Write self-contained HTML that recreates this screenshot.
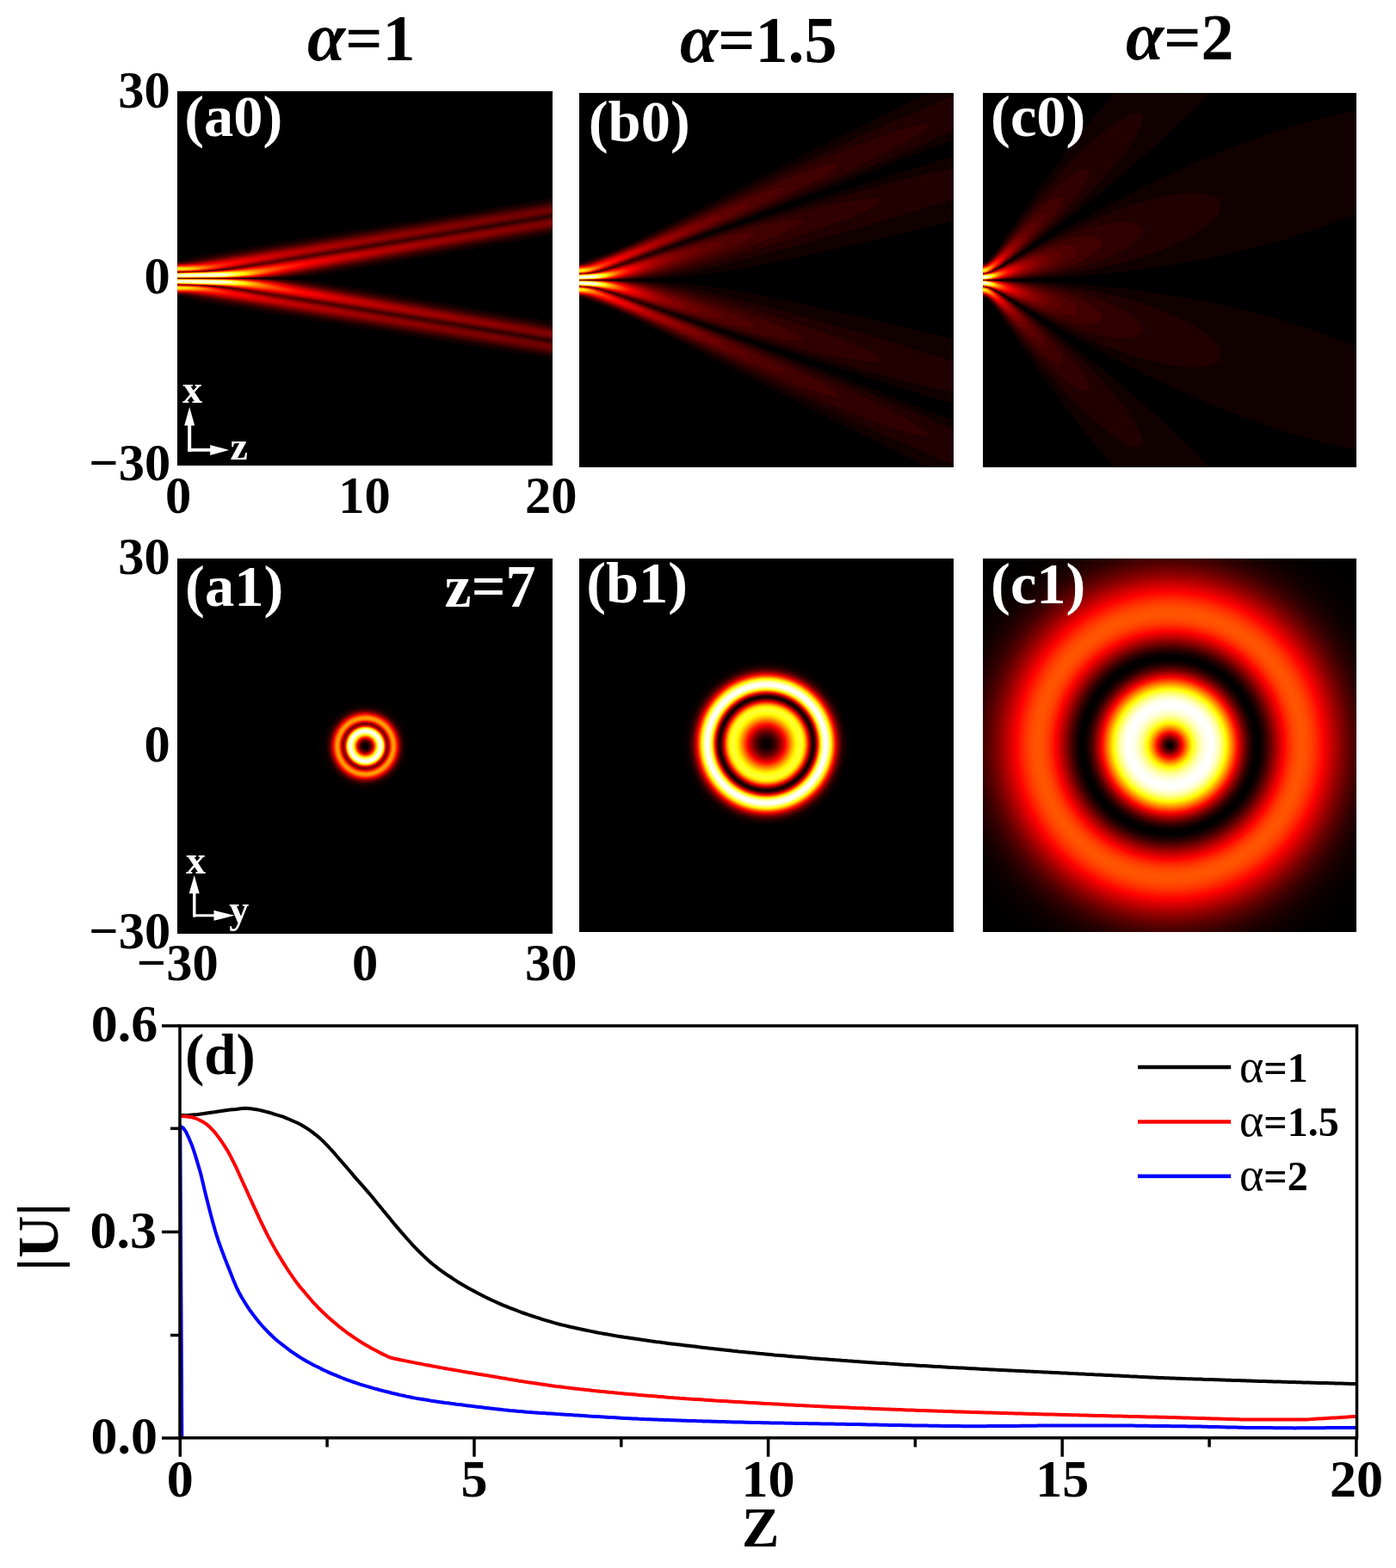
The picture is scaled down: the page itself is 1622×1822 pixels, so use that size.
<!DOCTYPE html><html><head><meta charset="utf-8"><title>figure</title><style>html,body{margin:0;padding:0;background:#fff}svg{display:block}text{font-family:"Liberation Serif","Times New Roman",serif;font-weight:bold}</style></head><body><svg width="1622" height="1822" viewBox="0 0 1622 1822"><defs><radialGradient id="ga1" gradientUnits="userSpaceOnUse" cx="424.6" cy="867.0" r="320"><stop offset="0.0000" stop-color="#000000"/><stop offset="0.0023" stop-color="#020000"/><stop offset="0.0047" stop-color="#050000"/><stop offset="0.0070" stop-color="#0a0000"/><stop offset="0.0094" stop-color="#100000"/><stop offset="0.0117" stop-color="#1a0000"/><stop offset="0.0141" stop-color="#260000"/><stop offset="0.0164" stop-color="#370000"/><stop offset="0.0187" stop-color="#4c0000"/><stop offset="0.0211" stop-color="#660000"/><stop offset="0.0234" stop-color="#850000"/><stop offset="0.0258" stop-color="#ab0000"/><stop offset="0.0281" stop-color="#d60000"/><stop offset="0.0305" stop-color="#ff0600"/><stop offset="0.0328" stop-color="#ff3800"/><stop offset="0.0352" stop-color="#ff6d00"/><stop offset="0.0375" stop-color="#ffa200"/><stop offset="0.0398" stop-color="#ffd700"/><stop offset="0.0422" stop-color="#ffff10"/><stop offset="0.0445" stop-color="#ffff56"/><stop offset="0.0469" stop-color="#ffff93"/><stop offset="0.0492" stop-color="#ffffc4"/><stop offset="0.0516" stop-color="#ffffe7"/><stop offset="0.0539" stop-color="#fffffb"/><stop offset="0.0563" stop-color="#fffffd"/><stop offset="0.0586" stop-color="#ffffe3"/><stop offset="0.0609" stop-color="#ffffae"/><stop offset="0.0633" stop-color="#ffff5f"/><stop offset="0.0656" stop-color="#fffc00"/><stop offset="0.0680" stop-color="#ffaf00"/><stop offset="0.0703" stop-color="#ff5f00"/><stop offset="0.0727" stop-color="#ff1100"/><stop offset="0.0750" stop-color="#ca0000"/><stop offset="0.0773" stop-color="#950000"/><stop offset="0.0797" stop-color="#7a0000"/><stop offset="0.0820" stop-color="#7c0000"/><stop offset="0.0844" stop-color="#970000"/><stop offset="0.0867" stop-color="#c30000"/><stop offset="0.0891" stop-color="#f80000"/><stop offset="0.0914" stop-color="#ff2c00"/><stop offset="0.0938" stop-color="#ff5900"/><stop offset="0.0961" stop-color="#ff7d00"/><stop offset="0.0984" stop-color="#ff9500"/><stop offset="0.1008" stop-color="#ffa000"/><stop offset="0.1031" stop-color="#ff9f00"/><stop offset="0.1055" stop-color="#ff9200"/><stop offset="0.1078" stop-color="#ff7b00"/><stop offset="0.1102" stop-color="#ff5d00"/><stop offset="0.1125" stop-color="#ff3b00"/><stop offset="0.1148" stop-color="#ff1600"/><stop offset="0.1172" stop-color="#f00000"/><stop offset="0.1195" stop-color="#cb0000"/><stop offset="0.1219" stop-color="#a80000"/><stop offset="0.1242" stop-color="#8a0000"/><stop offset="0.1266" stop-color="#6f0000"/><stop offset="0.1289" stop-color="#580000"/><stop offset="0.1313" stop-color="#450000"/><stop offset="0.1336" stop-color="#360000"/><stop offset="0.1359" stop-color="#290000"/><stop offset="0.1383" stop-color="#200000"/><stop offset="0.1406" stop-color="#180000"/><stop offset="0.1430" stop-color="#130000"/><stop offset="0.1453" stop-color="#0e0000"/><stop offset="0.1477" stop-color="#0b0000"/><stop offset="0.1500" stop-color="#090000"/><stop offset="0.1523" stop-color="#070000"/><stop offset="0.1547" stop-color="#050000"/><stop offset="0.1570" stop-color="#040000"/><stop offset="0.1594" stop-color="#040000"/><stop offset="0.1617" stop-color="#030000"/><stop offset="0.1641" stop-color="#020000"/><stop offset="0.1688" stop-color="#020000"/><stop offset="0.1711" stop-color="#010000"/><stop offset="0.1898" stop-color="#010000"/><stop offset="0.1922" stop-color="#000000"/><stop offset="0.9984" stop-color="#000000"/></radialGradient><radialGradient id="gb1" gradientUnits="userSpaceOnUse" cx="890.5" cy="864.2" r="320"><stop offset="0.0000" stop-color="#000000"/><stop offset="0.0023" stop-color="#010000"/><stop offset="0.0047" stop-color="#030000"/><stop offset="0.0070" stop-color="#050000"/><stop offset="0.0094" stop-color="#080000"/><stop offset="0.0117" stop-color="#0c0000"/><stop offset="0.0141" stop-color="#0f0000"/><stop offset="0.0164" stop-color="#140000"/><stop offset="0.0187" stop-color="#190000"/><stop offset="0.0211" stop-color="#1e0000"/><stop offset="0.0234" stop-color="#240000"/><stop offset="0.0258" stop-color="#2b0000"/><stop offset="0.0281" stop-color="#320000"/><stop offset="0.0305" stop-color="#390000"/><stop offset="0.0328" stop-color="#410000"/><stop offset="0.0352" stop-color="#4a0000"/><stop offset="0.0375" stop-color="#530000"/><stop offset="0.0398" stop-color="#5d0000"/><stop offset="0.0422" stop-color="#670000"/><stop offset="0.0445" stop-color="#720000"/><stop offset="0.0469" stop-color="#7e0000"/><stop offset="0.0492" stop-color="#8a0000"/><stop offset="0.0516" stop-color="#970000"/><stop offset="0.0539" stop-color="#a40000"/><stop offset="0.0563" stop-color="#b20000"/><stop offset="0.0586" stop-color="#c00000"/><stop offset="0.0609" stop-color="#cf0000"/><stop offset="0.0633" stop-color="#de0000"/><stop offset="0.0656" stop-color="#ee0000"/><stop offset="0.0680" stop-color="#fe0000"/><stop offset="0.0703" stop-color="#ff0f00"/><stop offset="0.0727" stop-color="#ff1f00"/><stop offset="0.0750" stop-color="#ff2f00"/><stop offset="0.0773" stop-color="#ff3f00"/><stop offset="0.0797" stop-color="#ff5000"/><stop offset="0.0820" stop-color="#ff6000"/><stop offset="0.0844" stop-color="#ff7000"/><stop offset="0.0867" stop-color="#ff8100"/><stop offset="0.0891" stop-color="#ff9100"/><stop offset="0.0914" stop-color="#ffa000"/><stop offset="0.0938" stop-color="#ffb000"/><stop offset="0.0961" stop-color="#ffbe00"/><stop offset="0.0984" stop-color="#ffcd00"/><stop offset="0.1008" stop-color="#ffda00"/><stop offset="0.1031" stop-color="#ffe700"/><stop offset="0.1055" stop-color="#fff200"/><stop offset="0.1078" stop-color="#fffd00"/><stop offset="0.1102" stop-color="#ffff0c"/><stop offset="0.1125" stop-color="#ffff18"/><stop offset="0.1148" stop-color="#ffff23"/><stop offset="0.1172" stop-color="#ffff2b"/><stop offset="0.1195" stop-color="#ffff31"/><stop offset="0.1219" stop-color="#ffff34"/><stop offset="0.1242" stop-color="#ffff32"/><stop offset="0.1266" stop-color="#ffff2c"/><stop offset="0.1289" stop-color="#ffff20"/><stop offset="0.1313" stop-color="#ffff0e"/><stop offset="0.1336" stop-color="#fff900"/><stop offset="0.1359" stop-color="#ffe600"/><stop offset="0.1383" stop-color="#ffcf00"/><stop offset="0.1406" stop-color="#ffb400"/><stop offset="0.1430" stop-color="#ff9500"/><stop offset="0.1453" stop-color="#ff7400"/><stop offset="0.1477" stop-color="#ff5000"/><stop offset="0.1500" stop-color="#ff2900"/><stop offset="0.1523" stop-color="#ff0200"/><stop offset="0.1547" stop-color="#d70000"/><stop offset="0.1570" stop-color="#ad0000"/><stop offset="0.1594" stop-color="#840000"/><stop offset="0.1617" stop-color="#5f0000"/><stop offset="0.1641" stop-color="#3e0000"/><stop offset="0.1664" stop-color="#240000"/><stop offset="0.1688" stop-color="#130000"/><stop offset="0.1711" stop-color="#120000"/><stop offset="0.1734" stop-color="#220000"/><stop offset="0.1758" stop-color="#3e0000"/><stop offset="0.1781" stop-color="#620000"/><stop offset="0.1805" stop-color="#8d0000"/><stop offset="0.1828" stop-color="#be0000"/><stop offset="0.1852" stop-color="#f20000"/><stop offset="0.1875" stop-color="#ff2800"/><stop offset="0.1898" stop-color="#ff5c00"/><stop offset="0.1922" stop-color="#ff9100"/><stop offset="0.1945" stop-color="#ffc300"/><stop offset="0.1969" stop-color="#fff200"/><stop offset="0.1992" stop-color="#ffff2e"/><stop offset="0.2016" stop-color="#ffff67"/><stop offset="0.2039" stop-color="#ffff98"/><stop offset="0.2062" stop-color="#ffffc0"/><stop offset="0.2086" stop-color="#ffffde"/><stop offset="0.2109" stop-color="#fffff3"/><stop offset="0.2133" stop-color="#fffffd"/><stop offset="0.2156" stop-color="#fffffe"/><stop offset="0.2180" stop-color="#fffff6"/><stop offset="0.2203" stop-color="#ffffe6"/><stop offset="0.2227" stop-color="#ffffce"/><stop offset="0.2250" stop-color="#ffffaf"/><stop offset="0.2273" stop-color="#ffff8a"/><stop offset="0.2297" stop-color="#ffff5f"/><stop offset="0.2320" stop-color="#ffff30"/><stop offset="0.2344" stop-color="#fffe00"/><stop offset="0.2367" stop-color="#ffdb00"/><stop offset="0.2391" stop-color="#ffb700"/><stop offset="0.2414" stop-color="#ff9200"/><stop offset="0.2437" stop-color="#ff6e00"/><stop offset="0.2461" stop-color="#ff4a00"/><stop offset="0.2484" stop-color="#ff2800"/><stop offset="0.2508" stop-color="#ff0700"/><stop offset="0.2531" stop-color="#e60000"/><stop offset="0.2555" stop-color="#c90000"/><stop offset="0.2578" stop-color="#ad0000"/><stop offset="0.2602" stop-color="#950000"/><stop offset="0.2625" stop-color="#7f0000"/><stop offset="0.2648" stop-color="#6c0000"/><stop offset="0.2672" stop-color="#5b0000"/><stop offset="0.2695" stop-color="#4c0000"/><stop offset="0.2719" stop-color="#3f0000"/><stop offset="0.2742" stop-color="#340000"/><stop offset="0.2766" stop-color="#2a0000"/><stop offset="0.2789" stop-color="#220000"/><stop offset="0.2812" stop-color="#1b0000"/><stop offset="0.2836" stop-color="#160000"/><stop offset="0.2859" stop-color="#110000"/><stop offset="0.2883" stop-color="#0d0000"/><stop offset="0.2906" stop-color="#0a0000"/><stop offset="0.2930" stop-color="#080000"/><stop offset="0.2953" stop-color="#060000"/><stop offset="0.2977" stop-color="#050000"/><stop offset="0.3000" stop-color="#040000"/><stop offset="0.3023" stop-color="#030000"/><stop offset="0.3047" stop-color="#020000"/><stop offset="0.3070" stop-color="#010000"/><stop offset="0.3141" stop-color="#010000"/><stop offset="0.3164" stop-color="#000000"/><stop offset="0.9984" stop-color="#000000"/></radialGradient><radialGradient id="gc1" gradientUnits="userSpaceOnUse" cx="1359.2" cy="866.0" r="320"><stop offset="0.0000" stop-color="#000000"/><stop offset="0.0023" stop-color="#010000"/><stop offset="0.0047" stop-color="#050000"/><stop offset="0.0070" stop-color="#0b0000"/><stop offset="0.0094" stop-color="#120000"/><stop offset="0.0117" stop-color="#1b0000"/><stop offset="0.0141" stop-color="#250000"/><stop offset="0.0164" stop-color="#300000"/><stop offset="0.0187" stop-color="#3d0000"/><stop offset="0.0211" stop-color="#4b0000"/><stop offset="0.0234" stop-color="#5a0000"/><stop offset="0.0258" stop-color="#690000"/><stop offset="0.0281" stop-color="#7a0000"/><stop offset="0.0305" stop-color="#8b0000"/><stop offset="0.0328" stop-color="#9d0000"/><stop offset="0.0352" stop-color="#af0000"/><stop offset="0.0375" stop-color="#c10000"/><stop offset="0.0398" stop-color="#d40000"/><stop offset="0.0422" stop-color="#e70000"/><stop offset="0.0445" stop-color="#fb0000"/><stop offset="0.0469" stop-color="#ff0e00"/><stop offset="0.0492" stop-color="#ff2100"/><stop offset="0.0516" stop-color="#ff3300"/><stop offset="0.0539" stop-color="#ff4500"/><stop offset="0.0563" stop-color="#ff5700"/><stop offset="0.0586" stop-color="#ff6900"/><stop offset="0.0609" stop-color="#ff7a00"/><stop offset="0.0633" stop-color="#ff8b00"/><stop offset="0.0656" stop-color="#ff9c00"/><stop offset="0.0680" stop-color="#ffac00"/><stop offset="0.0703" stop-color="#ffbc00"/><stop offset="0.0727" stop-color="#ffcb00"/><stop offset="0.0750" stop-color="#ffda00"/><stop offset="0.0773" stop-color="#ffe800"/><stop offset="0.0797" stop-color="#fff500"/><stop offset="0.0820" stop-color="#ffff05"/><stop offset="0.0844" stop-color="#ffff18"/><stop offset="0.0867" stop-color="#ffff2a"/><stop offset="0.0891" stop-color="#ffff3b"/><stop offset="0.0914" stop-color="#ffff4b"/><stop offset="0.0938" stop-color="#ffff5a"/><stop offset="0.0961" stop-color="#ffff69"/><stop offset="0.0984" stop-color="#ffff76"/><stop offset="0.1008" stop-color="#ffff83"/><stop offset="0.1031" stop-color="#ffff90"/><stop offset="0.1055" stop-color="#ffff9b"/><stop offset="0.1078" stop-color="#ffffa6"/><stop offset="0.1102" stop-color="#ffffb0"/><stop offset="0.1125" stop-color="#ffffb9"/><stop offset="0.1148" stop-color="#ffffc2"/><stop offset="0.1172" stop-color="#ffffca"/><stop offset="0.1195" stop-color="#ffffd1"/><stop offset="0.1219" stop-color="#ffffd8"/><stop offset="0.1242" stop-color="#ffffde"/><stop offset="0.1266" stop-color="#ffffe4"/><stop offset="0.1289" stop-color="#ffffe9"/><stop offset="0.1313" stop-color="#ffffee"/><stop offset="0.1336" stop-color="#fffff2"/><stop offset="0.1359" stop-color="#fffff5"/><stop offset="0.1383" stop-color="#fffff8"/><stop offset="0.1406" stop-color="#fffffa"/><stop offset="0.1430" stop-color="#fffffc"/><stop offset="0.1453" stop-color="#fffffe"/><stop offset="0.1477" stop-color="#ffffff"/><stop offset="0.1500" stop-color="#ffffff"/><stop offset="0.1523" stop-color="#fffffe"/><stop offset="0.1547" stop-color="#fffffb"/><stop offset="0.1570" stop-color="#fffff8"/><stop offset="0.1594" stop-color="#fffff4"/><stop offset="0.1617" stop-color="#ffffef"/><stop offset="0.1641" stop-color="#ffffe9"/><stop offset="0.1664" stop-color="#ffffe1"/><stop offset="0.1688" stop-color="#ffffd9"/><stop offset="0.1711" stop-color="#ffffd0"/><stop offset="0.1734" stop-color="#ffffc6"/><stop offset="0.1758" stop-color="#ffffbc"/><stop offset="0.1781" stop-color="#ffffb0"/><stop offset="0.1805" stop-color="#ffffa4"/><stop offset="0.1828" stop-color="#ffff96"/><stop offset="0.1852" stop-color="#ffff88"/><stop offset="0.1875" stop-color="#ffff79"/><stop offset="0.1898" stop-color="#ffff6a"/><stop offset="0.1922" stop-color="#ffff5a"/><stop offset="0.1945" stop-color="#ffff49"/><stop offset="0.1969" stop-color="#ffff38"/><stop offset="0.1992" stop-color="#ffff26"/><stop offset="0.2016" stop-color="#ffff14"/><stop offset="0.2039" stop-color="#ffff01"/><stop offset="0.2062" stop-color="#fff300"/><stop offset="0.2086" stop-color="#ffe500"/><stop offset="0.2109" stop-color="#ffd800"/><stop offset="0.2133" stop-color="#ffca00"/><stop offset="0.2156" stop-color="#ffbd00"/><stop offset="0.2180" stop-color="#ffaf00"/><stop offset="0.2203" stop-color="#ffa000"/><stop offset="0.2227" stop-color="#ff9200"/><stop offset="0.2250" stop-color="#ff8400"/><stop offset="0.2273" stop-color="#ff7600"/><stop offset="0.2297" stop-color="#ff6700"/><stop offset="0.2320" stop-color="#ff5900"/><stop offset="0.2344" stop-color="#ff4b00"/><stop offset="0.2367" stop-color="#ff3c00"/><stop offset="0.2391" stop-color="#ff2e00"/><stop offset="0.2414" stop-color="#ff2000"/><stop offset="0.2437" stop-color="#ff1200"/><stop offset="0.2461" stop-color="#ff0400"/><stop offset="0.2484" stop-color="#f50000"/><stop offset="0.2508" stop-color="#e70000"/><stop offset="0.2531" stop-color="#d90000"/><stop offset="0.2555" stop-color="#cc0000"/><stop offset="0.2578" stop-color="#bf0000"/><stop offset="0.2602" stop-color="#b20000"/><stop offset="0.2625" stop-color="#a50000"/><stop offset="0.2648" stop-color="#990000"/><stop offset="0.2672" stop-color="#8d0000"/><stop offset="0.2695" stop-color="#810000"/><stop offset="0.2719" stop-color="#760000"/><stop offset="0.2742" stop-color="#6b0000"/><stop offset="0.2766" stop-color="#610000"/><stop offset="0.2789" stop-color="#570000"/><stop offset="0.2812" stop-color="#4e0000"/><stop offset="0.2836" stop-color="#450000"/><stop offset="0.2859" stop-color="#3c0000"/><stop offset="0.2883" stop-color="#340000"/><stop offset="0.2906" stop-color="#2d0000"/><stop offset="0.2930" stop-color="#260000"/><stop offset="0.2953" stop-color="#1f0000"/><stop offset="0.2977" stop-color="#1a0000"/><stop offset="0.3000" stop-color="#140000"/><stop offset="0.3023" stop-color="#0f0000"/><stop offset="0.3047" stop-color="#0b0000"/><stop offset="0.3070" stop-color="#080000"/><stop offset="0.3094" stop-color="#050000"/><stop offset="0.3117" stop-color="#030000"/><stop offset="0.3141" stop-color="#010000"/><stop offset="0.3164" stop-color="#000000"/><stop offset="0.3187" stop-color="#000000"/><stop offset="0.3211" stop-color="#010000"/><stop offset="0.3234" stop-color="#030000"/><stop offset="0.3258" stop-color="#050000"/><stop offset="0.3281" stop-color="#080000"/><stop offset="0.3305" stop-color="#0b0000"/><stop offset="0.3328" stop-color="#0f0000"/><stop offset="0.3352" stop-color="#130000"/><stop offset="0.3375" stop-color="#180000"/><stop offset="0.3398" stop-color="#1d0000"/><stop offset="0.3422" stop-color="#220000"/><stop offset="0.3445" stop-color="#280000"/><stop offset="0.3469" stop-color="#2e0000"/><stop offset="0.3492" stop-color="#340000"/><stop offset="0.3516" stop-color="#3a0000"/><stop offset="0.3539" stop-color="#410000"/><stop offset="0.3563" stop-color="#480000"/><stop offset="0.3586" stop-color="#4f0000"/><stop offset="0.3609" stop-color="#560000"/><stop offset="0.3633" stop-color="#5d0000"/><stop offset="0.3656" stop-color="#650000"/><stop offset="0.3680" stop-color="#6c0000"/><stop offset="0.3703" stop-color="#740000"/><stop offset="0.3727" stop-color="#7c0000"/><stop offset="0.3750" stop-color="#830000"/><stop offset="0.3773" stop-color="#8b0000"/><stop offset="0.3797" stop-color="#930000"/><stop offset="0.3820" stop-color="#9b0000"/><stop offset="0.3844" stop-color="#a20000"/><stop offset="0.3867" stop-color="#aa0000"/><stop offset="0.3891" stop-color="#b20000"/><stop offset="0.3914" stop-color="#b90000"/><stop offset="0.3937" stop-color="#c10000"/><stop offset="0.3961" stop-color="#c80000"/><stop offset="0.3984" stop-color="#d00000"/><stop offset="0.4008" stop-color="#d70000"/><stop offset="0.4031" stop-color="#de0000"/><stop offset="0.4055" stop-color="#e50000"/><stop offset="0.4078" stop-color="#ec0000"/><stop offset="0.4102" stop-color="#f30000"/><stop offset="0.4125" stop-color="#f90000"/><stop offset="0.4148" stop-color="#ff0000"/><stop offset="0.4172" stop-color="#ff0600"/><stop offset="0.4195" stop-color="#ff0c00"/><stop offset="0.4219" stop-color="#ff1100"/><stop offset="0.4242" stop-color="#ff1700"/><stop offset="0.4266" stop-color="#ff1c00"/><stop offset="0.4289" stop-color="#ff2100"/><stop offset="0.4313" stop-color="#ff2500"/><stop offset="0.4336" stop-color="#ff2a00"/><stop offset="0.4359" stop-color="#ff2e00"/><stop offset="0.4383" stop-color="#ff3200"/><stop offset="0.4406" stop-color="#ff3600"/><stop offset="0.4430" stop-color="#ff3a00"/><stop offset="0.4453" stop-color="#ff3d00"/><stop offset="0.4477" stop-color="#ff4000"/><stop offset="0.4500" stop-color="#ff4300"/><stop offset="0.4523" stop-color="#ff4600"/><stop offset="0.4547" stop-color="#ff4800"/><stop offset="0.4570" stop-color="#ff4a00"/><stop offset="0.4594" stop-color="#ff4c00"/><stop offset="0.4617" stop-color="#ff4e00"/><stop offset="0.4641" stop-color="#ff5000"/><stop offset="0.4664" stop-color="#ff5100"/><stop offset="0.4688" stop-color="#ff5200"/><stop offset="0.4711" stop-color="#ff5300"/><stop offset="0.4734" stop-color="#ff5300"/><stop offset="0.4758" stop-color="#ff5400"/><stop offset="0.4828" stop-color="#ff5400"/><stop offset="0.4852" stop-color="#ff5300"/><stop offset="0.4875" stop-color="#ff5300"/><stop offset="0.4898" stop-color="#ff5200"/><stop offset="0.4922" stop-color="#ff5100"/><stop offset="0.4945" stop-color="#ff5000"/><stop offset="0.4969" stop-color="#ff4f00"/><stop offset="0.4992" stop-color="#ff4d00"/><stop offset="0.5016" stop-color="#ff4b00"/><stop offset="0.5039" stop-color="#ff4900"/><stop offset="0.5062" stop-color="#ff4700"/><stop offset="0.5086" stop-color="#ff4500"/><stop offset="0.5109" stop-color="#ff4300"/><stop offset="0.5133" stop-color="#ff4000"/><stop offset="0.5156" stop-color="#ff3e00"/><stop offset="0.5180" stop-color="#ff3b00"/><stop offset="0.5203" stop-color="#ff3800"/><stop offset="0.5227" stop-color="#ff3500"/><stop offset="0.5250" stop-color="#ff3200"/><stop offset="0.5273" stop-color="#ff2f00"/><stop offset="0.5297" stop-color="#ff2c00"/><stop offset="0.5320" stop-color="#ff2800"/><stop offset="0.5344" stop-color="#ff2500"/><stop offset="0.5367" stop-color="#ff2100"/><stop offset="0.5391" stop-color="#ff1e00"/><stop offset="0.5414" stop-color="#ff1a00"/><stop offset="0.5437" stop-color="#ff1600"/><stop offset="0.5461" stop-color="#ff1200"/><stop offset="0.5484" stop-color="#ff0e00"/><stop offset="0.5508" stop-color="#ff0b00"/><stop offset="0.5531" stop-color="#ff0700"/><stop offset="0.5555" stop-color="#ff0300"/><stop offset="0.5578" stop-color="#fd0000"/><stop offset="0.5602" stop-color="#f90000"/><stop offset="0.5625" stop-color="#f50000"/><stop offset="0.5648" stop-color="#f00000"/><stop offset="0.5672" stop-color="#ec0000"/><stop offset="0.5695" stop-color="#e80000"/><stop offset="0.5719" stop-color="#e30000"/><stop offset="0.5742" stop-color="#df0000"/><stop offset="0.5766" stop-color="#db0000"/><stop offset="0.5789" stop-color="#d60000"/><stop offset="0.5813" stop-color="#d20000"/><stop offset="0.5836" stop-color="#ce0000"/><stop offset="0.5859" stop-color="#c90000"/><stop offset="0.5883" stop-color="#c50000"/><stop offset="0.5906" stop-color="#c10000"/><stop offset="0.5930" stop-color="#bc0000"/><stop offset="0.5953" stop-color="#b80000"/><stop offset="0.5977" stop-color="#b40000"/><stop offset="0.6000" stop-color="#b00000"/><stop offset="0.6023" stop-color="#ac0000"/><stop offset="0.6047" stop-color="#a70000"/><stop offset="0.6070" stop-color="#a30000"/><stop offset="0.6094" stop-color="#9f0000"/><stop offset="0.6117" stop-color="#9b0000"/><stop offset="0.6141" stop-color="#970000"/><stop offset="0.6164" stop-color="#930000"/><stop offset="0.6188" stop-color="#900000"/><stop offset="0.6211" stop-color="#8c0000"/><stop offset="0.6234" stop-color="#880000"/><stop offset="0.6258" stop-color="#840000"/><stop offset="0.6281" stop-color="#810000"/><stop offset="0.6305" stop-color="#7d0000"/><stop offset="0.6328" stop-color="#7a0000"/><stop offset="0.6352" stop-color="#760000"/><stop offset="0.6375" stop-color="#730000"/><stop offset="0.6398" stop-color="#700000"/><stop offset="0.6422" stop-color="#6c0000"/><stop offset="0.6445" stop-color="#690000"/><stop offset="0.6469" stop-color="#660000"/><stop offset="0.6492" stop-color="#630000"/><stop offset="0.6516" stop-color="#600000"/><stop offset="0.6539" stop-color="#5d0000"/><stop offset="0.6562" stop-color="#5a0000"/><stop offset="0.6586" stop-color="#570000"/><stop offset="0.6609" stop-color="#540000"/><stop offset="0.6633" stop-color="#520000"/><stop offset="0.6656" stop-color="#4f0000"/><stop offset="0.6680" stop-color="#4d0000"/><stop offset="0.6703" stop-color="#4a0000"/><stop offset="0.6727" stop-color="#480000"/><stop offset="0.6750" stop-color="#450000"/><stop offset="0.6773" stop-color="#430000"/><stop offset="0.6797" stop-color="#410000"/><stop offset="0.6820" stop-color="#3e0000"/><stop offset="0.6844" stop-color="#3c0000"/><stop offset="0.6867" stop-color="#3a0000"/><stop offset="0.6891" stop-color="#380000"/><stop offset="0.6914" stop-color="#360000"/><stop offset="0.6937" stop-color="#340000"/><stop offset="0.6961" stop-color="#320000"/><stop offset="0.6984" stop-color="#300000"/><stop offset="0.7008" stop-color="#2f0000"/><stop offset="0.7031" stop-color="#2d0000"/><stop offset="0.7055" stop-color="#2b0000"/><stop offset="0.7078" stop-color="#2a0000"/><stop offset="0.7102" stop-color="#280000"/><stop offset="0.7125" stop-color="#260000"/><stop offset="0.7148" stop-color="#250000"/><stop offset="0.7172" stop-color="#240000"/><stop offset="0.7195" stop-color="#220000"/><stop offset="0.7219" stop-color="#210000"/><stop offset="0.7242" stop-color="#200000"/><stop offset="0.7266" stop-color="#1e0000"/><stop offset="0.7289" stop-color="#1d0000"/><stop offset="0.7312" stop-color="#1c0000"/><stop offset="0.7336" stop-color="#1b0000"/><stop offset="0.7359" stop-color="#1a0000"/><stop offset="0.7383" stop-color="#190000"/><stop offset="0.7406" stop-color="#180000"/><stop offset="0.7430" stop-color="#170000"/><stop offset="0.7453" stop-color="#160000"/><stop offset="0.7477" stop-color="#150000"/><stop offset="0.7500" stop-color="#140000"/><stop offset="0.7523" stop-color="#130000"/><stop offset="0.7547" stop-color="#120000"/><stop offset="0.7570" stop-color="#110000"/><stop offset="0.7594" stop-color="#110000"/><stop offset="0.7617" stop-color="#100000"/><stop offset="0.7641" stop-color="#0f0000"/><stop offset="0.7664" stop-color="#0f0000"/><stop offset="0.7688" stop-color="#0e0000"/><stop offset="0.7711" stop-color="#0d0000"/><stop offset="0.7734" stop-color="#0d0000"/><stop offset="0.7758" stop-color="#0c0000"/><stop offset="0.7781" stop-color="#0c0000"/><stop offset="0.7805" stop-color="#0b0000"/><stop offset="0.7828" stop-color="#0b0000"/><stop offset="0.7852" stop-color="#0a0000"/><stop offset="0.7875" stop-color="#0a0000"/><stop offset="0.7898" stop-color="#090000"/><stop offset="0.7922" stop-color="#090000"/><stop offset="0.7945" stop-color="#080000"/><stop offset="0.7969" stop-color="#080000"/><stop offset="0.7992" stop-color="#070000"/><stop offset="0.8039" stop-color="#070000"/><stop offset="0.8063" stop-color="#060000"/><stop offset="0.8133" stop-color="#060000"/><stop offset="0.8156" stop-color="#050000"/><stop offset="0.8227" stop-color="#050000"/><stop offset="0.8250" stop-color="#040000"/><stop offset="0.8320" stop-color="#040000"/><stop offset="0.8344" stop-color="#030000"/><stop offset="0.8484" stop-color="#030000"/><stop offset="0.8508" stop-color="#020000"/><stop offset="0.8695" stop-color="#020000"/><stop offset="0.8719" stop-color="#010000"/><stop offset="0.9117" stop-color="#010000"/><stop offset="0.9141" stop-color="#000000"/><stop offset="0.9984" stop-color="#000000"/></radialGradient></defs><rect width="1622" height="1822" fill="#fff"/><g transform="translate(206,106) scale(1.00000,1.00000)"><rect width="436" height="435" fill="#000"/><path fill="#100000" fill-rule="evenodd" d="M133.5 216.5 96.5 217.3 0.5 217.5 0.0 216.5 0.0 199.5 0.5 196.8 3.5 196.5 23.5 191.0 49.5 186.0 435.5 123.9 436.0 131.5 436.0 152.5 435.5 167.2 196.5 209.0 161.5 214.2 133.5 216.5ZM42.8 208.5 41.0 208.5 42.8 208.5ZM435.5 311.1 85.5 255.0 27.5 244.9 15.5 242.1 3.5 238.5 0.5 238.2 0.0 234.5 0.0 218.5 0.5 217.5 105.5 217.8 134.5 218.5 156.5 220.3 177.5 223.0 208.5 228.0 435.5 267.8 436.0 282.5 436.0 303.5 435.5 311.1ZM42.8 226.5 41.0 226.5 42.8 226.5Z"/><path fill="#200000" fill-rule="evenodd" d="M119.5 216.5 83.5 217.3 0.5 217.4 0.0 216.5 0.0 200.5 0.5 197.9 6.0 197.5 26.5 193.0 49.5 188.9 435.5 127.2 436.0 134.5 436.0 152.5 435.5 163.9 167.5 211.0 140.5 214.9 119.5 216.5ZM44.0 208.5 39.8 208.5 44.0 208.5ZM435.5 307.8 61.5 248.0 26.5 242.0 6.0 237.5 0.5 237.1 0.0 232.5 0.0 224.5 0.0 218.5 0.5 217.6 93.5 217.8 121.5 218.6 141.5 220.2 178.5 225.9 435.5 271.1 436.0 282.5 436.0 300.5 435.5 307.8ZM44.0 226.5 39.8 226.5 44.0 226.5Z"/><path fill="#300000" fill-rule="evenodd" d="M110.5 216.5 75.5 217.2 0.5 217.4 0.0 216.5 0.0 215.5 0.0 211.5 0.2 210.5 0.0 208.5 0.0 201.5 0.5 198.7 11.8 197.5 53.5 190.0 435.5 129.2 436.0 135.5 435.6 144.5 436.0 152.5 435.5 161.9 152.5 211.9 130.5 215.1 110.5 216.5ZM45.2 208.5 38.6 208.5 45.2 208.5ZM29.7 209.5 25.8 209.5 29.7 209.5ZM435.5 305.8 53.5 245.0 11.8 237.5 0.5 236.3 0.0 231.5 0.0 226.5 0.2 224.5 0.0 223.5 0.0 218.5 0.5 217.6 88.5 217.9 114.5 218.7 134.5 220.4 163.5 224.9 435.5 273.1 436.0 282.5 435.6 290.5 436.0 299.5 435.5 305.8ZM29.7 225.5 25.8 225.5 29.7 225.5ZM45.2 226.5 38.6 226.5 45.2 226.5Z"/><path fill="#400000" fill-rule="evenodd" d="M103.5 216.5 69.5 217.2 0.5 217.3 0.0 216.5 0.0 215.5 0.0 211.5 0.4 210.5 0.0 208.5 0.0 201.5 0.5 199.2 10.6 198.5 54.5 191.0 435.5 130.8 436.0 137.5 435.5 143.6 326.8 162.5 327.5 162.9 332.9 162.5 435.5 146.2 436.0 152.5 435.5 160.3 286.5 186.5 145.5 212.0 124.5 215.0 103.5 216.5ZM326.4 163.5 321.2 163.5 326.4 163.5ZM319.7 164.5 315.9 164.5 319.7 164.5ZM312.7 165.5 310.9 165.5 312.7 165.5ZM54.3 207.5 49.0 207.5 54.3 207.5ZM46.3 208.5 42.5 208.1 37.5 208.5 46.3 208.5ZM31.7 209.5 23.5 209.5 31.7 209.5ZM435.5 304.2 54.5 244.0 10.6 236.5 0.5 235.8 0.0 231.5 0.0 226.5 0.4 224.5 0.0 223.5 0.0 218.5 0.5 217.7 85.5 218.0 111.5 218.9 130.5 220.7 151.5 224.0 280.9 247.5 435.5 274.7 436.0 282.5 435.5 288.8 332.9 272.5 327.5 272.1 326.8 272.5 435.5 291.4 436.0 297.5 435.5 304.2ZM31.7 225.5 23.5 225.5 31.7 225.5ZM46.3 226.5 37.5 226.5 42.5 226.9 46.3 226.5ZM54.3 227.5 49.0 227.5 54.3 227.5ZM312.7 269.5 310.9 269.5 312.7 269.5ZM319.7 270.5 315.9 270.5 319.7 270.5ZM326.4 271.5 321.2 271.5 326.4 271.5Z"/><path fill="#4f0000" fill-rule="evenodd" d="M97.5 216.5 64.5 217.1 0.5 217.3 0.0 216.5 0.0 211.5 0.5 210.5 5.4 210.5 0.5 210.4 0.0 209.5 0.0 201.5 0.5 199.7 14.9 198.5 435.5 132.2 435.5 142.5 200.1 183.5 205.8 183.5 232.2 179.5 435.5 147.2 435.9 152.5 435.5 158.9 274.2 187.5 139.5 212.2 118.5 215.2 97.5 216.5ZM198.9 184.5 194.9 184.5 198.9 184.5ZM61.1 206.5 58.2 206.5 61.1 206.5ZM47.4 208.5 47.5 207.9 55.9 207.5 51.5 207.2 36.4 208.5 41.5 208.9 47.4 208.5ZM33.3 209.5 21.6 209.5 33.3 209.5ZM435.5 302.8 14.9 236.5 0.5 235.3 0.0 231.5 0.0 225.5 0.5 224.6 5.4 224.5 0.5 224.5 0.0 223.5 0.0 218.5 0.5 217.7 81.5 218.1 106.5 218.9 125.5 220.7 435.5 276.1 435.9 282.5 435.5 287.8 232.2 255.5 205.8 251.5 200.1 251.5 435.5 292.5 435.5 302.8ZM33.3 225.5 21.6 225.5 33.3 225.5ZM55.9 227.5 47.5 227.1 47.4 226.5 42.5 226.1 36.4 226.5 51.5 227.8 55.9 227.5ZM61.1 228.5 58.2 228.5 61.1 228.5ZM198.9 250.5 194.9 250.5 198.9 250.5Z"/><path fill="#5f0000" fill-rule="evenodd" d="M92.5 216.5 0.5 217.2 0.0 216.5 0.0 213.5 0.0 211.5 0.5 210.6 8.8 210.5 0.5 210.3 0.0 208.5 0.0 202.5 0.5 200.0 10.5 199.6 18.8 198.5 435.5 133.7 435.5 141.5 127.2 195.5 132.7 195.5 179.4 188.5 435.5 148.2 435.5 157.6 262.7 188.5 135.5 212.1 114.5 215.1 92.5 216.5ZM125.6 196.5 122.0 196.5 125.6 196.5ZM69.1 205.5 64.6 205.5 69.1 205.5ZM34.7 209.5 35.5 208.8 46.5 208.7 63.8 206.5 62.5 206.0 56.5 206.4 35.3 208.5 34.5 209.3 19.8 209.5 34.7 209.5ZM435.5 301.3 18.8 236.5 10.5 235.4 0.5 235.0 0.0 228.5 0.0 226.5 0.5 224.7 8.8 224.5 0.5 224.4 0.0 223.5 0.0 218.5 0.5 217.8 79.5 218.1 104.5 219.1 122.5 220.8 284.8 250.5 435.5 277.4 435.5 286.8 179.4 246.5 132.7 239.5 127.2 239.5 435.5 293.5 435.5 301.3ZM63.8 228.5 42.5 226.0 35.5 226.2 34.7 225.5 28.5 225.3 19.8 225.5 34.5 225.7 35.3 226.5 56.5 228.6 62.5 229.0 63.8 228.5ZM69.1 229.5 64.6 229.5 69.1 229.5ZM125.6 238.5 122.0 238.5 125.6 238.5Z"/><path fill="#6f0000" fill-rule="evenodd" d="M88.5 216.5 0.5 217.2 0.0 216.5 0.0 213.5 0.0 211.5 0.5 210.6 11.5 210.5 0.5 210.2 0.0 208.5 0.0 202.5 0.5 200.4 11.5 199.9 22.5 198.5 435.5 135.4 435.5 140.1 405.4 145.5 80.5 202.9 60.5 205.7 32.5 208.9 17.9 209.5 36.1 209.5 49.7 208.5 65.7 206.5 435.5 149.2 435.5 156.3 257.3 188.5 128.5 212.7 109.5 215.3 88.5 216.5ZM435.5 299.6 22.5 236.5 11.5 235.1 0.5 234.6 0.0 228.5 0.5 224.8 11.5 224.5 0.5 224.4 0.0 222.5 0.0 218.5 0.5 217.8 77.5 218.2 101.5 219.1 119.5 220.9 268.5 248.5 434.3 278.5 435.5 278.7 435.5 285.8 65.7 228.5 49.7 226.5 36.1 225.5 17.9 225.5 32.5 226.1 60.5 229.3 80.5 232.1 405.4 289.5 435.5 294.9 435.5 299.6Z"/><path fill="#7f0000" fill-rule="evenodd" d="M84.5 216.5 0.5 217.1 0.0 216.5 0.0 214.5 0.0 211.5 0.5 210.7 13.8 210.5 0.5 210.0 0.0 207.5 0.0 202.5 0.5 200.7 11.5 200.2 26.1 198.5 340.7 151.5 383.4 145.5 391.6 144.5 397.0 144.5 378.5 148.5 330.5 157.5 83.5 201.8 51.5 206.6 31.5 208.7 15.9 209.5 32.5 209.7 60.0 207.5 435.5 150.6 435.5 154.6 430.7 155.5 237.5 191.2 125.5 212.6 106.5 215.2 84.5 216.5ZM396.5 290.6 383.4 289.5 340.7 283.5 26.1 236.5 11.5 234.8 0.5 234.3 0.0 228.5 0.5 225.0 13.8 224.5 0.5 224.3 0.0 222.5 0.0 218.5 0.5 217.9 75.5 218.3 99.5 219.2 116.5 220.9 435.5 280.4 435.5 284.4 67.3 228.5 37.4 225.5 24.5 225.1 15.9 225.5 31.5 226.3 51.5 228.4 83.5 233.2 330.5 277.5 383.5 287.5 397.0 290.5 396.5 290.6Z"/><path fill="#8f0000" fill-rule="evenodd" d="M13.5 209.6 0.5 209.9 0.0 206.5 0.5 201.0 12.5 200.5 22.3 199.5 256.0 165.5 293.0 160.5 305.8 159.5 293.7 162.5 252.5 170.5 75.5 202.7 42.4 207.5 13.5 209.6ZM80.5 216.5 0.5 217.1 0.0 215.5 0.0 212.5 0.5 210.8 38.7 209.5 68.8 206.5 344.6 165.5 380.8 160.5 389.3 159.5 394.6 159.5 357.5 167.5 124.5 212.3 104.5 215.1 80.5 216.5ZM394.5 275.5 389.3 275.5 380.8 274.5 344.6 269.5 61.3 227.5 36.5 225.4 0.5 224.2 0.0 222.5 0.0 219.5 0.5 217.9 62.5 218.1 93.5 219.0 113.5 220.9 352.4 266.5 382.3 272.5 394.5 275.5ZM305.5 275.5 293.0 274.5 256.0 269.5 22.3 235.5 12.5 234.5 0.5 234.0 0.0 230.5 0.0 226.5 0.5 225.1 28.5 226.2 64.5 230.4 252.5 264.5 293.7 272.5 305.5 275.5Z"/><path fill="#9f0000" fill-rule="evenodd" d="M10.5 209.6 0.5 209.8 0.0 206.5 0.5 201.2 13.5 200.7 25.6 199.5 202.6 174.5 234.9 170.5 240.3 170.5 228.4 173.5 198.4 179.5 68.5 203.6 41.3 207.5 10.5 209.6ZM76.5 216.5 0.5 217.1 0.0 215.5 0.0 212.5 0.5 210.8 36.5 209.7 62.6 207.5 291.1 174.5 322.4 170.5 328.8 170.5 297.8 177.5 120.5 212.5 100.5 215.2 76.5 216.5ZM328.5 264.6 322.4 264.5 291.1 260.5 62.6 227.5 36.5 225.3 0.5 224.2 0.0 222.5 0.0 219.5 0.5 217.9 57.5 218.1 88.5 218.9 109.5 220.8 127.5 223.8 292.9 256.5 321.4 262.5 328.5 264.6ZM239.5 264.6 225.8 263.5 202.6 260.5 25.6 235.5 13.5 234.3 0.5 233.8 0.0 230.5 0.0 226.5 0.5 225.2 27.5 226.2 41.3 227.5 62.5 230.4 198.4 255.5 228.4 261.5 240.3 264.5 239.5 264.6Z"/><path fill="#af0000" fill-rule="evenodd" d="M7.5 209.5 0.5 209.6 0.0 206.5 0.5 201.5 14.5 200.9 28.9 199.5 160.7 181.5 186.3 178.5 192.2 178.5 180.9 181.5 156.7 186.5 61.3 204.5 48.3 206.5 29.5 208.5 7.5 209.5ZM73.5 216.5 0.5 217.0 0.0 215.5 0.0 212.5 0.5 210.9 37.5 209.7 63.9 207.5 249.2 181.5 274.0 178.5 280.5 178.5 273.7 180.5 250.9 185.5 117.9 212.5 97.5 215.3 73.5 216.5ZM279.5 256.6 274.0 256.5 241.7 252.5 63.9 227.5 37.5 225.3 0.5 224.1 0.0 222.5 0.0 219.5 0.5 218.0 55.5 218.2 86.5 219.0 106.5 220.7 124.5 223.8 250.9 249.5 273.7 254.5 280.5 256.5 279.5 256.6ZM191.5 256.6 186.3 256.5 160.7 253.5 28.9 235.5 14.5 234.1 0.5 233.5 0.0 230.5 0.0 226.5 0.5 225.4 23.5 226.1 40.1 227.5 55.2 229.5 156.7 248.5 180.9 253.5 192.2 256.5 191.5 256.6Z"/><path fill="#bf0000" fill-rule="evenodd" d="M27.5 208.5 0.5 209.5 0.0 207.5 0.3 202.5 0.5 201.7 14.5 201.2 32.3 199.5 140.0 185.5 149.9 184.5 156.0 184.5 149.7 186.5 136.3 189.5 70.5 202.5 47.0 206.5 27.5 208.5ZM69.5 216.5 0.5 217.0 0.0 215.5 0.0 212.5 0.5 210.9 37.5 209.8 65.3 207.5 212.1 187.5 238.0 184.5 243.7 184.5 237.9 186.5 220.6 190.5 115.5 212.5 94.5 215.3 69.5 216.5ZM243.5 250.5 238.0 250.5 212.1 247.5 65.3 227.5 37.5 225.2 0.5 224.1 0.0 222.5 0.0 219.5 0.5 218.0 50.5 218.2 81.5 218.9 102.8 220.5 120.6 223.5 211.3 242.5 237.9 248.5 243.5 250.5ZM155.5 250.6 149.9 250.5 131.5 248.5 23.5 234.5 0.5 233.3 0.0 226.5 0.5 225.5 23.5 226.2 38.9 227.5 53.7 229.5 131.5 244.5 149.7 248.5 156.0 250.5 155.5 250.6Z"/><path fill="#ce0000" fill-rule="evenodd" d="M26.5 208.5 0.5 209.4 0.0 207.5 0.1 203.5 0.5 201.9 14.5 201.5 26.9 200.5 107.9 190.5 122.5 189.2 127.8 189.5 107.7 194.5 63.3 203.5 45.7 206.5 26.5 208.5ZM66.5 216.5 0.5 216.9 0.0 215.5 0.0 212.5 0.5 211.0 38.5 209.8 66.7 207.5 188.2 191.5 206.0 189.5 215.0 189.5 208.9 191.5 192.1 195.5 112.5 212.6 91.5 215.4 66.5 216.5ZM214.5 245.7 206.0 245.5 188.2 243.5 82.9 229.5 57.0 226.5 32.5 224.9 0.5 224.0 0.0 222.5 0.0 219.5 0.5 218.1 49.5 218.2 80.5 219.0 100.6 220.5 118.3 223.5 187.6 238.5 208.9 243.5 215.0 245.5 214.5 245.7ZM127.5 245.7 121.5 245.8 107.9 244.5 26.9 234.5 14.5 233.5 0.5 233.1 0.0 226.5 0.5 225.6 17.5 226.0 45.7 228.5 63.3 231.5 103.0 239.5 120.9 243.5 127.5 245.7Z"/><path fill="#de0000" fill-rule="evenodd" d="M25.5 208.5 0.5 209.3 0.0 207.5 0.2 203.5 0.5 202.1 26.5 200.9 90.9 193.5 105.9 192.5 105.4 193.5 98.3 195.5 61.4 203.5 44.4 206.5 25.5 208.5ZM63.5 216.5 0.5 216.9 0.0 215.5 0.0 212.5 0.5 211.0 32.5 210.2 58.3 208.5 170.8 194.5 187.5 193.0 190.5 193.0 192.2 193.5 169.6 199.5 108.5 213.0 87.8 215.5 63.5 216.5ZM191.5 241.9 184.5 241.8 170.8 240.5 58.3 226.5 32.5 224.8 0.5 224.0 0.0 222.5 0.0 219.5 0.5 218.1 48.5 218.3 78.5 219.0 98.4 220.5 116.0 223.5 165.2 234.5 186.0 239.5 192.2 241.5 191.5 241.9ZM105.5 242.5 90.9 241.5 27.5 234.2 0.5 232.9 0.1 226.5 0.5 225.7 17.5 226.1 44.4 228.5 61.4 231.5 94.1 238.5 105.4 241.5 105.9 242.5 105.5 242.5Z"/><path fill="#ee0000" fill-rule="evenodd" d="M23.5 208.5 0.5 209.3 0.0 207.5 0.2 203.5 0.5 202.3 22.8 201.5 71.5 196.5 82.5 195.5 89.7 195.5 88.3 196.5 81.3 198.5 54.6 204.5 43.1 206.5 23.5 208.5ZM59.5 216.5 0.5 216.8 0.0 215.5 0.0 212.5 0.5 211.1 31.5 210.3 59.6 208.5 161.2 196.5 171.5 195.9 174.2 196.5 168.4 198.5 152.7 202.5 103.5 213.5 85.6 215.5 59.5 216.5ZM173.5 238.9 166.5 238.9 151.7 237.5 59.6 226.5 31.5 224.7 0.5 223.9 0.0 222.5 0.0 219.5 0.5 218.2 47.5 218.3 77.5 219.1 96.4 220.5 113.8 223.5 148.5 231.5 168.4 236.5 174.2 238.5 173.5 238.9ZM89.5 239.5 82.5 239.5 71.5 238.5 22.8 233.5 0.5 232.7 0.1 226.5 0.5 225.7 18.5 226.2 43.1 228.5 54.6 230.5 77.2 235.5 88.3 238.5 89.5 239.5Z"/><path fill="#fe0000" fill-rule="evenodd" d="M22.5 208.5 0.5 209.2 0.0 207.5 0.2 203.5 0.5 202.5 25.5 201.6 70.5 197.6 75.0 197.5 75.8 198.5 65.7 201.5 47.8 205.5 34.1 207.5 22.5 208.5ZM56.5 216.5 0.5 216.8 0.0 215.5 0.0 212.5 0.5 211.2 28.3 210.5 61.0 208.5 140.0 199.5 152.5 198.4 159.7 198.5 158.5 199.5 155.7 200.5 144.8 203.5 116.1 210.5 101.6 213.5 83.5 215.5 56.5 216.5ZM159.5 236.5 151.5 236.5 140.0 235.5 57.5 226.2 28.3 224.5 0.5 223.8 0.0 222.5 0.0 219.5 0.5 218.2 44.5 218.3 74.5 219.0 93.5 220.4 107.0 222.5 132.8 228.5 155.7 234.5 158.5 235.5 159.5 236.5ZM74.5 237.5 24.5 233.3 0.5 232.5 0.0 227.5 0.5 225.8 8.5 225.9 22.7 226.5 41.8 228.5 61.7 232.5 75.8 236.5 75.5 237.3 74.5 237.5Z"/><path fill="#ff0e00" fill-rule="evenodd" d="M20.5 208.5 0.5 209.1 0.0 206.5 0.5 202.7 23.5 202.0 57.5 199.4 66.1 199.5 65.2 200.5 62.4 201.5 46.3 205.5 32.9 207.5 20.5 208.5ZM52.5 216.5 0.5 216.7 0.0 215.5 0.0 212.5 0.5 211.2 26.5 210.6 54.5 209.1 127.0 201.5 139.5 200.4 147.5 200.5 146.6 201.5 144.0 202.5 133.6 205.5 114.0 210.5 99.7 213.5 81.4 215.5 52.5 216.5ZM147.5 234.5 139.5 234.6 127.0 233.5 54.5 225.9 26.5 224.4 0.5 223.8 0.0 222.5 0.0 219.5 0.5 218.3 43.5 218.4 72.5 219.1 91.5 220.4 105.1 222.5 122.0 226.5 144.0 232.5 146.6 233.5 147.5 234.5ZM65.5 235.6 56.0 235.5 19.5 232.8 0.5 232.3 0.0 227.5 0.5 225.9 19.5 226.4 32.9 227.5 46.3 229.5 55.2 231.5 65.2 234.5 66.1 235.5 65.5 235.6Z"/><path fill="#ff1e00" fill-rule="evenodd" d="M19.5 208.5 0.5 209.0 0.0 206.5 0.5 202.9 18.9 202.5 53.5 200.5 56.5 200.6 58.1 201.5 52.9 203.5 44.8 205.5 31.6 207.5 19.5 208.5ZM48.5 216.5 0.5 216.7 0.0 215.5 0.0 212.5 0.5 211.3 24.5 210.8 50.7 209.5 123.0 202.5 133.5 202.0 137.5 202.5 133.3 204.5 123.2 207.5 97.9 213.5 79.4 215.5 48.5 216.5ZM137.5 232.5 133.5 233.0 123.0 232.5 50.7 225.5 24.5 224.2 0.5 223.7 0.0 222.5 0.0 219.5 0.5 218.3 38.5 218.4 68.5 219.0 87.5 220.2 97.9 221.5 111.8 224.5 130.2 229.5 136.0 231.5 137.5 232.5ZM57.5 234.1 52.5 234.5 18.9 232.5 0.5 232.1 0.1 227.5 0.5 226.0 18.5 226.4 31.6 227.5 49.2 230.5 56.0 232.5 58.1 233.5 57.5 234.1Z"/><path fill="#ff2d00" fill-rule="evenodd" d="M17.5 208.5 0.5 208.9 0.1 206.5 0.5 203.1 46.5 201.5 50.5 201.6 52.3 202.5 47.2 204.5 37.8 206.5 17.5 208.5ZM43.5 216.5 0.5 216.7 0.0 215.5 0.0 212.5 0.5 211.3 50.5 209.6 119.0 203.5 128.6 203.5 128.5 204.5 120.3 207.5 105.8 211.5 96.2 213.5 77.4 215.5 43.5 216.5ZM128.5 231.5 119.0 231.5 50.5 225.4 0.5 223.7 0.0 219.5 0.5 218.3 39.5 218.5 68.5 219.1 86.5 220.2 96.2 221.5 109.7 224.5 126.3 229.5 128.5 230.5 128.5 231.5ZM48.5 233.5 0.5 231.9 0.1 227.5 0.5 226.1 17.9 226.5 30.3 227.5 43.2 229.5 52.3 232.5 50.5 233.4 48.5 233.5Z"/><path fill="#ff3c00" fill-rule="evenodd" d="M15.5 208.5 0.5 208.8 0.1 206.5 0.5 203.3 41.5 202.2 46.8 202.5 47.4 203.5 41.5 205.5 36.4 206.5 15.5 208.5ZM38.5 216.5 0.5 216.6 0.0 215.5 0.0 212.5 0.5 211.4 51.5 209.6 114.4 204.5 120.1 204.5 121.7 205.5 117.3 207.5 103.9 211.5 87.4 214.5 68.5 215.8 38.5 216.5ZM119.5 230.5 103.5 229.7 49.5 225.2 0.5 223.6 0.0 219.5 0.5 218.4 38.5 218.5 66.5 219.1 84.5 220.2 99.7 222.5 111.1 225.5 121.7 229.5 119.5 230.5ZM46.5 232.5 0.5 231.7 0.1 227.5 0.5 226.2 16.1 226.5 28.9 227.5 36.4 228.5 45.2 230.5 47.4 231.5 46.5 232.5Z"/><path fill="#ff4b00" fill-rule="evenodd" d="M13.5 208.5 0.5 208.8 0.1 206.5 0.5 203.4 36.5 202.8 43.8 203.5 42.9 204.5 34.9 206.5 13.5 208.5ZM32.5 216.5 0.5 216.6 0.0 215.5 0.1 212.5 0.5 211.4 49.5 209.9 107.5 205.5 113.7 205.5 115.6 206.5 111.6 208.5 102.0 211.5 85.7 214.5 65.5 215.9 32.5 216.5ZM113.5 229.5 102.5 229.2 46.5 225.0 0.5 223.6 0.0 219.5 0.5 218.4 34.5 218.5 63.5 219.1 82.5 220.2 92.8 221.5 105.6 224.5 111.6 226.5 115.6 228.5 113.5 229.5ZM43.5 231.6 35.5 232.2 0.5 231.6 0.2 227.5 0.5 226.2 14.0 226.5 27.5 227.5 39.8 229.5 42.9 230.5 43.5 231.6Z"/><path fill="#ff5a00" fill-rule="evenodd" d="M11.5 208.5 0.5 208.7 0.5 203.6 34.5 203.3 38.9 203.5 40.4 204.5 33.4 206.5 11.5 208.5ZM20.5 216.5 0.5 216.5 0.1 212.5 0.5 211.5 46.5 210.1 99.5 206.4 108.5 206.4 109.5 206.5 110.3 207.5 106.4 209.5 100.2 211.5 84.0 214.5 60.5 215.9 20.5 216.5ZM108.5 228.6 98.3 228.5 42.5 224.7 0.5 223.5 0.1 219.5 0.5 218.5 32.5 218.6 61.5 219.1 79.5 220.1 91.2 221.5 100.2 223.5 106.4 225.5 110.3 227.5 109.5 228.5 108.5 228.6ZM38.5 231.5 0.5 231.4 0.2 227.5 0.5 226.3 26.1 227.5 33.4 228.5 40.4 230.5 38.5 231.5Z"/><path fill="#ff6a00" fill-rule="evenodd" d="M8.5 208.5 0.5 208.6 0.5 203.8 30.5 203.6 37.6 204.5 36.1 205.5 31.9 206.5 24.6 207.5 8.5 208.5ZM69.5 215.5 42.5 216.3 0.5 216.5 0.0 213.5 0.5 211.6 43.5 210.3 95.5 207.1 105.6 207.5 105.6 208.5 103.9 209.5 94.6 212.5 82.4 214.5 69.5 215.5ZM105.5 227.5 95.5 227.9 43.5 224.7 0.5 223.4 0.1 219.5 0.5 218.5 27.5 218.6 56.5 219.0 75.5 219.9 94.6 222.5 103.9 225.5 105.6 226.5 105.5 227.5ZM37.5 230.5 30.5 231.4 0.5 231.2 0.2 227.5 0.5 226.4 24.6 227.5 31.9 228.5 36.1 229.5 37.5 230.5Z"/><path fill="#ff7900" fill-rule="evenodd" d="M3.5 208.5 0.5 208.5 0.5 204.0 25.5 203.9 34.3 204.5 34.1 205.5 23.0 207.5 3.5 208.5ZM67.5 215.5 40.5 216.2 0.5 216.4 0.0 213.5 0.5 211.6 37.5 210.7 92.5 207.7 98.5 207.7 102.0 208.5 101.3 209.5 96.5 211.5 88.1 213.5 67.5 215.5ZM101.5 226.7 98.5 227.3 92.5 227.3 37.5 224.3 0.5 223.4 0.1 219.5 0.5 218.6 24.5 218.6 72.5 219.8 80.8 220.5 92.9 222.5 99.3 224.5 101.3 225.5 102.0 226.5 101.5 226.7ZM33.5 230.6 25.5 231.1 0.5 231.0 0.3 227.5 0.5 226.5 23.0 227.5 34.1 229.5 34.3 230.5 33.5 230.6Z"/><path fill="#ff8800" fill-rule="evenodd" d="M20.5 207.6 0.5 208.4 0.3 205.5 0.5 204.2 16.5 204.1 30.2 204.5 31.9 205.5 28.6 206.5 20.5 207.6ZM65.5 215.5 0.5 216.4 0.1 213.5 0.5 211.7 35.5 210.8 88.5 208.2 97.5 208.5 98.5 209.5 94.7 211.5 86.5 213.5 65.5 215.5ZM96.5 226.6 85.5 226.7 35.5 224.2 0.5 223.3 0.1 219.5 0.5 218.6 28.5 218.7 72.5 219.9 82.5 220.9 91.3 222.5 97.1 224.5 98.5 225.5 97.5 226.5 96.5 226.6ZM29.5 230.6 0.5 230.8 0.3 227.5 0.5 226.6 16.5 227.2 28.6 228.5 31.9 229.5 29.5 230.6Z"/><path fill="#ff9700" fill-rule="evenodd" d="M18.5 207.6 0.5 208.3 0.5 204.5 23.5 204.5 29.5 205.5 26.8 206.5 18.5 207.6ZM63.5 215.5 0.5 216.3 0.1 213.5 0.5 211.7 33.5 211.0 85.5 208.6 91.5 208.7 95.4 209.5 94.9 210.5 92.9 211.5 85.0 213.5 63.5 215.5ZM94.5 225.8 84.5 226.4 33.5 224.0 0.5 223.3 0.2 219.5 0.5 218.7 23.5 218.7 68.5 219.8 77.7 220.5 89.7 222.5 94.9 224.5 95.4 225.5 94.5 225.8ZM23.5 230.5 0.5 230.7 0.3 227.5 0.5 226.7 19.5 227.5 26.8 228.5 29.5 229.5 23.5 230.5Z"/><path fill="#ffa600" fill-rule="evenodd" d="M17.5 207.5 0.5 208.1 0.5 204.5 19.5 204.7 26.9 205.5 24.9 206.5 17.5 207.5ZM61.5 215.5 0.5 216.2 0.1 213.5 0.5 211.8 31.5 211.1 77.5 209.1 89.5 209.2 91.8 209.5 92.6 210.5 88.1 212.5 83.5 213.5 61.5 215.5ZM91.5 225.6 79.5 225.9 31.5 223.9 0.5 223.2 0.1 220.5 0.5 218.8 62.0 219.5 83.5 221.5 91.0 223.5 92.6 224.5 91.5 225.6ZM26.5 229.6 18.5 230.3 0.5 230.5 0.4 227.5 0.5 226.9 17.5 227.5 24.9 228.5 26.9 229.5 26.5 229.6Z"/><path fill="#ffb600" fill-rule="evenodd" d="M14.5 207.5 0.5 208.0 0.5 204.7 23.9 205.5 22.8 206.5 14.5 207.5ZM59.5 215.5 0.5 216.2 0.1 213.5 0.5 211.9 78.5 209.4 86.9 209.5 90.1 210.5 89.1 211.5 86.5 212.5 82.0 213.5 59.5 215.5ZM86.5 225.5 74.5 225.5 0.5 223.1 0.1 220.5 0.5 218.8 62.5 219.6 82.0 221.5 86.5 222.5 89.1 223.5 90.1 224.5 86.5 225.5ZM23.5 229.6 0.5 230.3 0.4 227.5 0.5 227.0 15.3 227.5 22.8 228.5 23.9 229.5 23.5 229.6Z"/><path fill="#ffc500" fill-rule="evenodd" d="M12.5 207.5 0.5 207.8 0.5 205.0 19.5 205.4 20.3 205.5 20.6 206.5 12.5 207.5ZM57.5 215.5 0.5 216.1 0.2 213.5 0.5 211.9 75.5 209.7 83.5 209.8 87.5 210.5 87.2 211.5 80.5 213.5 57.5 215.5ZM86.5 224.8 74.5 225.3 0.5 223.1 0.2 220.5 0.5 218.9 58.0 219.5 80.5 221.5 87.2 223.5 87.5 224.5 86.5 224.8ZM19.5 229.6 0.5 230.0 0.4 227.5 12.8 227.5 20.6 228.5 20.3 229.5 19.5 229.6Z"/><path fill="#ffd400" fill-rule="evenodd" d="M9.5 207.5 0.5 207.7 0.5 205.2 15.6 205.5 18.0 206.5 9.5 207.5ZM55.5 215.5 0.5 216.1 0.2 213.5 0.5 212.0 69.5 210.0 82.5 210.2 84.5 210.5 85.3 211.5 83.2 212.5 76.5 213.8 55.5 215.5ZM83.5 224.7 70.5 225.0 0.5 223.0 0.2 220.5 0.5 218.9 56.5 219.5 79.0 221.5 85.3 223.5 84.5 224.5 83.5 224.7ZM15.5 229.5 0.5 229.8 0.5 227.5 9.6 227.5 18.0 228.5 15.5 229.5Z"/><path fill="#ffe300" fill-rule="evenodd" d="M4.5 207.5 0.5 207.5 0.5 205.4 9.5 205.6 15.1 206.5 4.5 207.5ZM53.5 215.5 0.5 216.0 0.2 213.5 0.5 212.1 64.5 210.3 79.5 210.4 83.2 211.5 81.6 212.5 75.5 213.8 53.5 215.5ZM80.5 224.6 66.5 224.7 0.5 222.9 0.2 220.5 0.5 219.0 56.5 219.6 77.5 221.5 81.6 222.5 83.2 223.5 80.5 224.6ZM7.5 229.5 0.5 229.6 0.5 227.5 15.1 228.5 7.5 229.5Z"/><path fill="#fff200" fill-rule="evenodd" d="M10.5 206.6 0.5 207.2 0.5 206.5 0.5 205.8 11.4 206.5 10.5 206.6ZM51.5 215.5 0.5 215.9 0.2 213.5 0.5 212.1 61.9 210.5 76.3 210.5 81.1 211.5 80.0 212.5 75.5 213.6 68.5 214.5 51.5 215.5ZM75.5 224.5 0.5 222.9 0.2 220.5 0.5 219.1 51.5 219.5 68.5 220.5 75.5 221.4 80.0 222.5 81.1 223.5 75.5 224.5ZM10.5 228.6 0.5 229.2 0.5 228.5 0.5 227.8 11.4 228.5 10.5 228.6Z"/><path fill="#ffff04" fill-rule="evenodd" d="M5.5 206.5 0.5 206.5 5.5 206.5ZM48.5 215.5 0.5 215.9 0.2 213.5 0.5 212.2 65.5 210.6 73.5 210.7 78.9 211.5 78.3 212.5 72.5 213.8 48.5 215.5ZM78.5 223.6 73.5 224.3 65.5 224.4 0.5 222.8 0.2 220.5 0.5 219.1 49.1 219.5 66.9 220.5 74.6 221.5 78.3 222.5 78.9 223.5 78.5 223.6ZM5.5 228.5 0.5 228.5 5.5 228.5Z"/><path fill="#ffff1b" fill-rule="evenodd" d="M46.5 215.5 0.5 215.8 0.3 213.5 0.5 212.3 62.5 210.8 76.5 211.5 76.6 212.5 73.1 213.5 65.4 214.5 46.5 215.5ZM76.5 223.5 62.5 224.2 0.5 222.7 0.3 220.5 0.5 219.2 47.5 219.5 65.4 220.5 73.1 221.5 76.6 222.5 76.5 223.5Z"/><path fill="#ffff32" fill-rule="evenodd" d="M43.5 215.5 0.5 215.8 0.3 213.5 0.5 212.3 58.5 211.0 72.5 211.3 73.9 211.5 74.9 212.5 71.5 213.5 63.8 214.5 43.5 215.5ZM73.5 223.6 58.5 224.0 0.5 222.7 0.3 220.5 0.5 219.2 49.5 219.7 63.8 220.5 71.5 221.5 74.9 222.5 73.5 223.6Z"/><path fill="#ffff48" fill-rule="evenodd" d="M40.5 215.5 0.5 215.7 0.3 213.5 0.5 212.4 55.5 211.2 69.5 211.4 73.1 212.5 70.0 213.5 62.1 214.5 40.5 215.5ZM70.5 223.5 55.5 223.8 0.5 222.6 0.3 220.5 0.5 219.3 49.5 219.8 62.1 220.5 70.0 221.5 73.1 222.5 70.5 223.5Z"/><path fill="#ffff5f" fill-rule="evenodd" d="M36.5 215.5 0.5 215.7 0.3 213.5 0.5 212.4 52.5 211.4 67.4 211.5 71.2 212.5 68.4 213.5 60.5 214.5 36.5 215.5ZM66.5 223.5 0.5 222.6 0.3 220.5 0.5 219.3 37.2 219.5 60.5 220.5 68.4 221.5 71.2 222.5 66.5 223.5Z"/><path fill="#ffff76" fill-rule="evenodd" d="M32.5 215.5 0.5 215.6 0.4 213.5 0.5 212.5 49.6 211.5 62.5 211.5 69.3 212.5 66.8 213.5 58.8 214.5 32.5 215.5ZM61.5 223.5 0.5 222.5 0.4 220.5 0.5 219.4 32.9 219.5 58.8 220.5 66.8 221.5 69.3 222.5 61.5 223.5Z"/><path fill="#ffff8d" fill-rule="evenodd" d="M26.5 215.5 0.5 215.5 0.4 213.5 0.5 212.7 51.5 211.6 61.5 211.8 67.3 212.5 65.2 213.5 57.0 214.5 26.5 215.5ZM66.5 222.7 53.5 223.4 0.5 222.3 0.4 220.5 0.5 219.5 47.5 220.0 65.2 221.5 67.3 222.5 66.5 222.7Z"/><path fill="#ffffa4" fill-rule="evenodd" d="M54.5 214.5 0.5 215.5 0.4 213.5 0.5 212.8 49.5 211.8 65.2 212.5 63.5 213.5 54.5 214.5ZM64.5 222.6 53.5 223.2 0.5 222.2 0.4 220.5 0.5 219.5 47.5 220.1 63.5 221.5 65.2 222.5 64.5 222.6Z"/><path fill="#ffffbb" fill-rule="evenodd" d="M52.5 214.5 0.5 215.2 0.4 213.5 0.5 213.0 30.5 212.2 53.5 212.0 62.8 212.5 61.8 213.5 52.5 214.5ZM62.5 222.5 51.5 223.0 0.5 222.0 0.4 220.5 0.5 219.8 47.5 220.2 61.8 221.5 62.5 222.5Z"/><path fill="#ffffd1" fill-rule="evenodd" d="M50.5 214.5 0.5 215.0 0.5 213.5 30.5 212.3 60.3 212.5 60.0 213.5 50.5 214.5ZM59.5 222.6 30.5 222.7 0.5 221.8 0.5 220.5 0.5 220.0 47.5 220.3 60.0 221.5 60.3 222.5 59.5 222.6Z"/><path fill="#ffffe8" fill-rule="evenodd" d="M48.5 214.5 0.5 214.7 0.5 213.5 20.5 213.1 26.3 212.5 53.5 212.3 57.3 212.5 58.1 213.5 48.5 214.5ZM56.5 222.6 30.5 222.6 18.5 221.8 0.5 221.7 0.5 220.5 46.5 220.4 58.1 221.5 57.3 222.5 56.5 222.6Z"/></g><g transform="translate(673,108) scale(0.99771,1.00000)"><rect width="436" height="435" fill="#000"/><path fill="#100000" fill-rule="evenodd" d="M75.5 216.5 44.5 217.3 0.5 217.5 0.0 216.5 0.0 198.5 0.5 196.7 38.2 183.5 60.9 173.5 111.6 148.5 281.5 62.0 405.6 0.5 435.5 0.0 436.0 0.5 436.0 36.5 435.5 54.6 282.5 113.8 138.6 167.5 139.5 167.9 141.6 167.5 313.8 111.5 435.5 73.4 436.0 103.5 435.5 149.4 291.5 183.1 241.5 194.0 201.5 201.9 166.5 207.9 136.5 211.9 106.5 214.8 75.5 216.5ZM138.4 168.5 136.1 168.5 138.4 168.5ZM135.0 169.5 133.6 169.5 135.0 169.5ZM17.8 208.5 17.2 208.5 17.8 208.5ZM435.5 435.0 405.6 434.5 281.5 373.0 111.6 286.5 58.8 260.5 35.6 250.5 0.5 238.3 0.0 234.5 0.0 218.5 0.5 217.5 32.5 217.6 87.5 219.0 127.5 222.1 167.5 227.3 211.5 235.0 264.5 245.9 340.5 263.1 435.5 285.6 436.0 331.5 435.5 361.6 313.8 323.5 141.6 267.5 139.5 267.1 138.6 267.5 282.5 321.2 435.5 380.4 436.0 410.5 436.0 434.5 435.5 435.0ZM17.8 226.5 17.2 226.5 17.8 226.5ZM135.0 265.5 133.6 265.5 135.0 265.5ZM138.4 266.5 136.1 266.5 138.4 266.5Z"/><path fill="#200000" fill-rule="evenodd" d="M59.5 216.5 0.5 217.4 0.0 216.5 0.0 215.5 0.0 210.5 0.0 202.5 0.2 198.5 0.5 197.9 6.5 196.5 36.9 185.5 60.9 175.5 216.5 101.0 280.5 71.0 359.5 35.4 435.5 2.9 435.5 44.1 357.2 78.5 280.4 110.5 202.8 141.5 103.3 179.5 95.8 182.5 95.5 183.4 93.4 183.5 95.5 183.5 102.1 181.5 223.7 143.5 295.5 122.5 373.5 101.5 435.5 86.9 435.5 122.9 384.1 139.5 318.5 159.1 240.5 180.9 179.5 197.0 144.5 205.2 114.5 210.9 86.9 214.5 59.5 216.5ZM18.4 208.5 16.7 208.5 18.4 208.5ZM12.1 209.5 10.5 209.5 12.1 209.5ZM435.5 432.1 359.5 399.6 280.5 364.0 218.5 335.0 58.6 258.5 31.6 247.5 6.5 238.5 0.5 237.1 0.0 232.5 0.0 218.5 0.5 217.6 33.5 217.7 56.5 218.3 75.8 219.5 109.5 223.4 145.5 230.1 202.5 243.9 290.5 267.9 371.0 291.5 435.5 312.1 435.5 348.1 373.5 333.5 295.5 312.5 223.7 291.5 102.1 253.5 95.5 251.5 93.4 251.5 95.5 251.6 95.8 252.5 103.3 255.5 202.8 293.5 280.4 324.5 357.2 356.5 435.5 390.9 435.5 432.1ZM12.1 225.5 10.5 225.5 12.1 225.5ZM18.4 226.5 16.7 226.5 18.4 226.5Z"/><path fill="#300000" fill-rule="evenodd" d="M51.5 216.5 0.5 217.4 0.0 216.5 0.0 215.5 0.0 211.5 0.2 210.5 0.0 206.5 0.1 199.5 0.5 198.6 6.4 197.5 34.4 187.5 61.5 176.5 210.5 108.3 262.5 85.6 306.3 67.5 345.3 52.5 377.7 41.5 398.5 36.2 404.5 35.5 407.5 36.5 407.6 37.5 406.4 39.5 401.9 43.5 393.2 49.5 379.7 57.5 345.3 75.5 301.3 96.5 251.7 118.5 197.3 141.5 70.4 191.5 72.5 191.6 76.3 190.5 144.4 169.5 195.6 154.5 232.2 144.5 268.1 135.5 299.9 128.5 327.5 123.8 344.5 122.6 349.5 123.3 351.4 124.5 351.1 126.5 349.2 128.5 339.4 134.5 314.1 145.5 272.8 160.5 215.5 179.2 156.5 196.9 125.5 205.2 99.5 210.9 75.8 214.5 51.5 216.5ZM69.3 192.5 68.3 192.5 69.3 192.5ZM23.2 207.5 21.1 207.5 23.2 207.5ZM18.9 208.5 16.2 208.5 18.9 208.5ZM12.8 209.5 9.9 209.5 12.8 209.5ZM407.5 398.5 404.5 399.5 398.5 398.8 377.7 393.5 348.1 383.5 308.8 368.5 263.5 349.8 211.5 327.2 59.1 257.5 23.5 243.5 6.4 237.5 0.5 236.4 0.0 232.5 0.0 226.5 0.2 224.5 0.0 223.5 0.0 218.5 0.5 217.6 26.5 217.7 63.5 219.3 90.2 222.5 118.5 228.1 166.5 241.0 234.5 261.8 290.0 280.5 328.7 295.5 339.4 300.5 346.5 304.5 350.3 307.5 351.6 309.5 351.4 310.5 349.5 311.7 344.5 312.4 327.5 311.2 299.9 306.5 268.1 299.5 232.2 290.5 195.6 280.5 144.4 265.5 76.3 244.5 72.5 243.4 70.4 243.5 197.3 293.5 251.7 316.5 301.3 338.5 345.3 359.5 379.7 377.5 393.2 385.5 401.9 391.5 406.4 395.5 407.6 397.5 407.5 398.5ZM12.8 225.5 9.9 225.5 12.8 225.5ZM18.9 226.5 16.2 226.5 18.9 226.5ZM23.2 227.5 21.1 227.5 23.2 227.5ZM69.3 242.5 68.3 242.5 69.3 242.5Z"/><path fill="#400000" fill-rule="evenodd" d="M46.5 216.5 0.5 217.3 0.0 216.5 0.0 215.5 0.0 211.5 0.4 210.5 0.0 209.5 0.0 206.5 0.4 199.5 8.7 197.5 17.4 194.5 56.7 179.5 173.5 128.0 237.7 101.5 261.9 92.5 283.2 85.5 296.5 82.2 300.5 81.8 303.1 82.5 302.4 84.5 297.9 88.5 281.8 98.5 256.9 111.5 223.1 127.5 189.6 142.5 156.5 156.5 53.0 197.5 52.5 198.4 50.4 198.5 52.6 198.5 53.5 197.8 146.1 170.5 199.6 156.5 222.3 151.5 240.5 148.3 254.5 147.2 258.1 147.5 260.0 148.5 260.0 149.5 258.5 151.5 250.5 156.5 230.5 165.5 201.7 176.5 160.5 190.7 124.5 202.1 102.5 208.1 83.5 212.2 65.5 214.9 46.5 216.5ZM49.0 199.5 48.1 199.5 49.0 199.5ZM33.6 204.5 32.5 204.5 33.6 204.5ZM30.7 205.5 28.8 205.5 30.7 205.5ZM27.5 206.5 24.8 206.5 27.5 206.5ZM23.8 207.5 20.5 207.5 23.8 207.5ZM19.3 208.5 17.5 208.1 15.7 208.5 19.3 208.5ZM13.4 209.5 9.2 209.5 13.4 209.5ZM302.5 352.9 300.5 353.2 295.5 352.6 283.2 349.5 261.9 342.5 237.7 333.5 173.5 307.0 54.2 254.5 11.7 238.5 5.3 236.5 0.5 235.9 0.0 231.5 0.0 226.5 0.4 224.5 0.0 223.5 0.0 218.5 0.5 217.7 16.5 217.7 52.5 218.9 74.5 221.3 96.5 225.5 125.5 233.2 165.5 245.9 209.9 261.5 239.9 273.5 255.7 281.5 259.5 284.5 260.0 286.5 258.1 287.5 254.5 287.8 240.5 286.7 222.3 283.5 199.6 278.5 146.1 264.5 53.5 237.2 52.6 236.5 50.4 236.5 52.5 236.6 53.0 237.5 156.5 278.5 191.9 293.5 227.5 309.5 260.9 325.5 285.3 338.5 300.4 348.5 303.1 351.5 303.1 352.5 302.5 352.9ZM13.4 225.5 9.2 225.5 13.4 225.5ZM19.3 226.5 15.7 226.5 17.5 226.9 19.3 226.5ZM23.8 227.5 20.5 227.5 23.8 227.5ZM27.5 228.5 24.8 228.5 27.5 228.5ZM30.7 229.5 28.8 229.5 30.7 229.5ZM33.6 230.5 32.5 230.5 33.6 230.5ZM49.0 235.5 48.1 235.5 49.0 235.5Z"/><path fill="#4f0000" fill-rule="evenodd" d="M42.5 216.5 0.5 217.3 0.0 216.5 0.0 211.5 0.5 210.5 2.2 210.5 0.5 210.4 0.0 208.5 0.0 202.5 0.5 199.6 4.5 199.2 10.7 197.5 48.7 183.5 147.5 141.5 195.2 122.5 215.0 115.5 228.4 111.5 236.5 109.9 239.9 110.5 238.9 112.5 235.3 115.5 218.3 125.5 190.4 139.5 157.5 154.5 112.0 173.5 45.5 199.8 27.5 205.8 20.0 207.5 19.5 208.1 15.3 208.5 18.5 208.7 20.5 207.9 28.2 206.5 104.9 183.5 153.5 170.5 171.2 166.5 187.5 163.5 199.5 162.4 202.5 162.7 204.3 163.5 204.3 164.5 202.6 166.5 196.2 170.5 181.3 177.5 159.0 186.5 130.5 196.9 105.5 205.0 89.3 209.5 73.5 212.9 58.5 215.1 42.5 216.5ZM13.9 209.5 8.6 209.5 13.9 209.5ZM239.5 324.8 234.5 324.8 224.7 322.5 192.5 311.5 147.5 293.5 48.7 251.5 10.7 237.5 4.5 235.8 0.5 235.4 0.0 232.5 0.0 226.5 0.5 224.6 2.2 224.5 0.5 224.5 0.0 223.5 0.0 218.5 0.5 217.7 7.5 217.7 44.5 218.6 63.6 220.5 81.5 223.7 102.5 229.1 127.5 237.1 159.0 248.5 183.6 258.5 199.7 266.5 203.7 269.5 204.3 271.5 202.5 272.3 199.5 272.6 187.5 271.5 171.2 268.5 153.5 264.5 104.9 251.5 28.2 228.5 20.5 227.1 18.5 226.3 15.3 226.5 19.5 226.9 20.0 227.5 27.5 229.2 45.5 235.2 114.5 262.5 159.7 281.5 192.4 296.5 220.1 310.5 236.6 320.5 239.7 323.5 239.5 324.8ZM13.9 225.5 8.6 225.5 13.9 225.5Z"/><path fill="#5f0000" fill-rule="evenodd" d="M38.5 216.5 0.5 217.2 0.0 216.5 0.0 211.5 0.5 210.6 3.8 210.5 0.5 210.3 0.0 209.5 0.0 204.5 0.5 200.0 5.1 199.5 12.4 197.5 40.1 187.5 135.5 148.5 166.9 136.5 189.2 129.5 195.5 128.5 196.5 128.6 197.2 129.5 195.5 131.5 191.4 134.5 175.7 143.5 155.5 153.5 131.1 164.5 92.8 180.5 46.5 199.0 29.5 204.9 14.8 208.5 17.5 209.0 28.8 206.5 93.9 187.5 133.1 177.5 156.5 173.2 163.5 172.7 167.4 173.5 167.6 174.5 165.9 176.5 159.6 180.5 147.1 186.5 127.8 194.5 109.1 201.5 90.7 207.5 78.5 210.8 65.8 213.5 51.7 215.5 38.5 216.5ZM14.4 209.5 12.5 209.1 7.9 209.5 14.4 209.5ZM195.5 306.5 189.5 305.6 181.9 303.5 161.4 296.5 130.5 284.5 40.1 247.5 12.4 237.5 5.1 235.5 0.5 235.0 0.0 230.5 0.0 225.5 0.5 224.7 3.8 224.5 0.5 224.4 0.0 223.5 0.0 218.5 0.5 217.8 39.3 218.5 55.5 219.9 71.0 222.5 87.3 226.5 106.2 232.5 127.8 240.5 149.4 249.5 164.6 257.5 167.0 259.5 167.6 260.5 167.4 261.5 163.5 262.3 156.5 261.8 133.1 257.5 93.9 247.5 28.8 228.5 17.5 226.0 14.8 226.5 29.5 230.1 49.5 237.2 100.2 257.5 137.9 273.5 163.8 285.5 184.8 296.5 195.5 303.5 197.2 305.5 196.5 306.4 195.5 306.5ZM14.4 225.5 7.9 225.5 12.5 225.9 14.4 225.5Z"/><path fill="#6f0000" fill-rule="evenodd" d="M36.5 216.5 0.5 217.2 0.0 215.5 0.0 211.5 0.5 210.6 4.9 210.5 0.5 210.2 0.1 209.5 0.0 204.5 0.5 200.3 10.7 198.5 31.0 191.5 117.5 157.4 141.5 148.5 157.5 143.5 162.5 142.4 165.5 142.5 165.6 143.5 162.3 146.5 148.7 154.5 128.0 164.5 100.6 176.5 61.5 192.6 37.5 201.9 18.5 207.7 13.5 208.9 7.2 209.5 12.5 209.8 25.4 207.5 86.0 190.5 119.3 182.5 136.5 180.0 140.5 180.3 141.4 180.5 142.0 181.5 140.5 183.5 137.7 185.5 126.4 191.5 107.9 199.5 88.8 206.5 75.5 210.5 62.3 213.5 49.5 215.4 36.5 216.5ZM165.5 292.5 162.5 292.6 157.5 291.5 141.5 286.5 117.5 277.6 31.0 243.5 10.7 236.5 0.5 234.7 0.0 230.5 0.1 225.5 0.5 224.8 4.9 224.5 0.5 224.4 0.0 222.5 0.0 218.5 0.5 217.8 34.5 218.4 48.8 219.5 62.3 221.5 75.5 224.5 88.8 228.5 105.3 234.5 122.1 241.5 137.7 249.5 141.5 252.5 142.0 253.5 141.5 254.3 138.5 255.0 132.5 254.7 114.5 251.5 82.3 243.5 25.4 227.5 12.5 225.2 7.2 225.5 13.5 226.1 18.5 227.3 37.5 233.1 61.5 242.4 100.6 258.5 128.0 270.5 148.7 280.5 162.3 288.5 165.6 291.5 165.5 292.5Z"/><path fill="#7f0000" fill-rule="evenodd" d="M33.5 216.5 0.5 217.2 0.0 216.5 0.0 214.5 0.0 211.5 0.5 210.7 5.9 210.5 0.5 210.1 0.1 209.5 0.0 205.5 0.5 200.6 8.6 199.5 24.1 194.5 122.1 157.5 135.5 153.4 140.5 152.5 142.5 153.0 141.7 154.5 137.6 157.5 122.6 165.5 100.9 175.5 70.4 188.5 31.5 203.8 18.5 207.5 6.5 209.5 7.5 209.9 12.5 209.9 25.9 207.5 77.4 193.5 103.1 187.5 117.5 185.4 121.4 185.5 123.2 186.5 123.0 187.5 121.0 189.5 110.6 195.5 97.3 201.5 81.5 207.5 70.5 210.9 59.3 213.5 46.3 215.5 33.5 216.5ZM141.5 282.5 131.6 280.5 113.6 274.5 43.2 247.5 18.4 238.5 8.6 235.5 0.5 234.4 0.0 229.5 0.1 225.5 0.5 224.9 5.9 224.5 0.5 224.3 0.0 222.5 0.0 218.5 0.5 217.8 29.5 218.3 43.5 219.2 55.5 220.8 67.5 223.3 78.5 226.5 89.8 230.5 104.2 236.5 118.0 243.5 122.2 246.5 123.2 248.5 121.4 249.5 117.5 249.6 103.1 247.5 77.4 241.5 25.9 227.5 12.5 225.1 7.5 225.1 6.5 225.5 18.5 227.5 31.5 231.2 50.5 238.4 82.4 251.5 109.8 263.5 130.5 273.5 140.5 279.5 142.6 281.5 141.5 282.5Z"/><path fill="#8f0000" fill-rule="evenodd" d="M5.5 209.6 0.5 209.9 0.2 209.5 0.0 205.5 0.5 200.9 7.5 200.1 16.7 197.5 103.8 165.5 116.7 161.5 121.5 160.4 124.6 160.5 124.3 161.5 120.3 164.5 107.1 171.5 85.3 181.5 54.7 194.5 25.5 205.5 12.5 208.7 5.5 209.6ZM31.5 216.5 0.5 217.1 0.0 215.5 0.0 212.5 0.5 210.7 13.5 209.8 25.5 207.7 68.2 196.5 89.9 191.5 103.5 189.5 106.5 189.5 109.0 190.5 108.9 191.5 107.0 193.5 100.6 197.5 88.0 203.5 75.0 208.5 65.3 211.5 54.5 213.9 44.1 215.5 31.5 216.5ZM105.5 245.5 95.4 244.5 80.6 241.5 21.8 226.5 12.5 225.1 0.5 224.3 0.0 222.5 0.0 218.5 0.5 217.9 8.5 217.9 35.5 218.7 50.5 220.4 63.5 223.0 83.1 229.5 100.6 237.5 105.6 240.5 108.9 243.5 109.0 244.5 108.5 244.9 105.5 245.5ZM124.5 274.6 121.5 274.6 116.7 273.5 100.9 268.5 16.7 237.5 7.5 234.9 0.5 234.1 0.0 229.5 0.2 225.5 0.5 225.1 4.5 225.2 18.2 227.5 28.6 230.5 44.9 236.5 78.4 250.5 105.0 262.5 120.3 270.5 124.3 273.5 124.5 274.6Z"/><path fill="#9f0000" fill-rule="evenodd" d="M4.5 209.6 0.3 209.5 0.0 205.5 0.5 201.1 8.5 200.2 21.0 196.5 96.3 169.5 107.5 166.7 108.5 166.6 109.5 167.4 103.7 171.5 89.9 178.5 44.0 198.5 21.6 206.5 12.5 208.6 4.5 209.6ZM29.5 216.5 0.5 217.1 0.0 215.5 0.0 212.5 0.5 210.8 12.5 210.0 22.3 208.5 80.3 194.5 92.5 192.8 95.5 192.8 97.8 193.5 98.0 194.5 96.2 196.5 90.0 200.5 79.6 205.5 69.1 209.5 58.9 212.5 49.3 214.5 29.5 216.5ZM97.5 241.7 92.5 242.2 80.5 240.5 22.3 226.5 12.5 225.0 0.5 224.2 0.0 222.5 0.0 218.5 0.5 217.9 6.5 217.9 32.5 218.7 46.5 220.1 58.9 222.5 72.0 226.5 86.1 232.5 96.2 238.5 98.0 240.5 97.5 241.7ZM109.5 267.6 108.5 268.4 107.5 268.3 96.3 265.5 21.0 238.5 8.5 234.8 0.5 233.9 0.0 230.5 0.0 226.5 0.5 225.2 12.5 226.4 21.6 228.5 33.7 232.5 58.4 242.5 85.6 254.5 101.9 262.5 107.0 265.5 109.5 267.6Z"/><path fill="#af0000" fill-rule="evenodd" d="M3.5 209.5 0.5 209.7 0.0 208.5 0.0 204.5 0.5 201.4 8.4 200.5 16.0 198.5 81.8 175.5 92.5 172.5 95.5 172.1 96.6 172.5 91.1 176.5 79.3 182.5 38.2 200.5 27.4 204.5 17.2 207.5 3.5 209.5ZM27.5 216.5 0.5 217.0 0.0 215.5 0.0 212.5 0.5 210.9 12.5 210.1 22.8 208.5 74.8 196.5 85.5 195.3 87.6 195.5 89.2 196.5 88.1 198.5 82.2 202.5 74.1 206.5 63.6 210.5 47.4 214.5 27.5 216.5ZM87.5 239.5 81.5 239.5 69.5 237.5 21.5 226.3 8.4 224.5 0.5 224.1 0.0 222.5 0.0 218.5 0.5 218.0 5.5 218.0 30.5 218.6 43.5 219.9 55.5 222.2 69.2 226.5 82.2 232.5 86.9 235.5 88.9 237.5 89.2 238.5 87.5 239.5ZM96.5 262.6 92.3 262.5 81.8 259.5 16.0 236.5 8.4 234.5 0.5 233.6 0.0 230.5 0.0 226.5 0.5 225.3 12.4 226.5 21.1 228.5 33.0 232.5 54.9 241.5 79.3 252.5 92.8 259.5 95.8 261.5 96.5 262.6Z"/><path fill="#bf0000" fill-rule="evenodd" d="M1.5 209.5 0.5 209.5 0.0 208.5 0.5 201.6 6.5 201.1 13.7 199.5 73.0 179.5 81.5 177.2 83.5 177.0 84.9 177.5 78.9 181.5 66.9 187.5 32.3 202.5 16.8 207.5 9.5 208.8 1.5 209.5ZM26.5 216.5 0.5 217.0 0.0 215.5 0.0 212.5 0.5 210.9 9.1 210.5 22.5 208.7 68.3 198.5 78.5 197.5 80.5 197.7 81.9 198.5 81.0 200.5 75.2 204.5 66.7 208.5 58.3 211.5 44.5 214.7 26.5 216.5ZM79.5 237.5 73.5 237.2 63.0 235.5 20.5 226.0 9.1 224.5 0.5 224.1 0.0 222.5 0.0 218.5 0.5 218.0 2.5 218.0 27.5 218.6 38.8 219.5 50.8 221.5 64.2 225.5 75.2 230.5 79.9 233.5 81.8 235.5 81.9 236.5 79.5 237.5ZM84.5 257.9 80.0 257.5 69.8 254.5 17.2 236.5 8.5 234.3 0.5 233.4 0.0 226.5 0.5 225.5 11.5 226.4 20.6 228.5 29.7 231.5 46.9 238.5 69.0 248.5 82.4 255.5 84.9 257.5 84.5 257.9Z"/><path fill="#ce0000" fill-rule="evenodd" d="M10.5 208.6 0.5 209.4 0.0 206.5 0.5 201.8 6.5 201.3 14.9 199.5 63.6 183.5 71.5 181.4 74.6 181.5 72.3 183.5 65.0 187.5 38.9 199.5 23.3 205.5 10.5 208.6ZM24.5 216.5 0.5 216.9 0.0 215.5 0.0 212.5 0.5 211.0 9.8 210.5 21.5 208.9 62.5 200.3 72.5 199.3 74.8 199.5 76.0 200.5 74.8 202.5 70.4 205.5 64.4 208.5 56.4 211.5 42.5 214.8 24.5 216.5ZM74.5 235.6 68.5 235.6 61.0 234.5 18.0 225.5 0.5 224.0 0.0 222.5 0.0 219.5 0.5 218.1 23.5 218.4 37.4 219.5 49.1 221.5 59.4 224.5 70.4 229.5 75.7 233.5 76.0 234.5 74.5 235.6ZM74.5 253.6 71.0 253.5 63.6 251.5 14.9 235.5 6.5 233.7 0.5 233.2 0.0 226.5 0.5 225.6 11.4 226.5 26.3 230.5 41.3 236.5 58.9 244.5 70.6 250.5 73.7 252.5 74.5 253.6Z"/><path fill="#de0000" fill-rule="evenodd" d="M10.5 208.6 0.5 209.4 0.0 206.5 0.5 202.0 7.1 201.5 14.5 199.9 57.2 186.5 62.5 185.2 65.1 185.5 62.6 187.5 55.2 191.5 35.7 200.5 22.8 205.5 10.5 208.6ZM22.5 216.5 0.5 216.9 0.0 215.5 0.0 212.5 0.5 211.0 9.5 210.6 20.5 209.2 58.8 201.5 66.5 200.7 70.7 201.5 70.8 202.5 70.2 203.5 67.7 205.5 62.3 208.5 54.7 211.5 40.5 214.9 22.5 216.5ZM70.5 233.6 66.5 234.3 59.5 233.6 20.5 225.8 9.5 224.4 0.5 224.0 0.0 222.5 0.0 219.5 0.5 218.1 17.5 218.3 32.5 219.1 43.5 220.6 54.7 223.5 62.3 226.5 69.1 230.5 70.8 232.5 70.5 233.6ZM64.5 249.9 61.0 249.5 53.8 247.5 16.1 235.5 7.1 233.5 0.5 233.0 0.1 226.5 0.5 225.6 10.9 226.5 25.7 230.5 40.3 236.5 55.2 243.5 64.1 248.5 65.1 249.5 64.5 249.9Z"/><path fill="#ee0000" fill-rule="evenodd" d="M9.5 208.6 0.5 209.3 0.0 206.5 0.5 202.2 6.5 201.8 13.4 200.5 50.3 189.5 56.8 188.5 56.2 189.5 51.4 192.5 32.6 201.5 19.1 206.5 9.5 208.6ZM21.5 216.5 0.5 216.8 0.0 215.5 0.0 212.5 0.5 211.1 19.1 209.5 56.2 202.5 63.5 202.0 66.0 202.5 66.6 203.5 65.0 205.5 62.1 207.5 55.8 210.5 50.0 212.5 36.5 215.3 21.5 216.5ZM65.5 232.7 61.5 233.0 56.2 232.5 19.1 225.5 0.5 223.9 0.0 222.5 0.0 219.5 0.5 218.2 15.5 218.3 30.5 219.1 41.4 220.5 50.0 222.5 60.2 226.5 66.0 230.5 66.6 231.5 65.5 232.7ZM56.5 246.6 50.3 245.5 13.4 234.5 6.5 233.2 0.5 232.8 0.1 226.5 0.5 225.7 10.3 226.5 19.1 228.5 25.1 230.5 47.6 240.5 54.8 244.5 56.2 245.5 56.5 246.6Z"/><path fill="#fe0000" fill-rule="evenodd" d="M9.5 208.5 0.5 209.2 0.0 206.5 0.5 202.4 13.5 200.8 42.8 192.5 49.5 191.5 47.5 193.5 44.1 195.5 29.5 202.5 18.6 206.5 9.5 208.5ZM19.5 216.5 0.5 216.8 0.0 215.5 0.0 212.5 0.5 211.1 18.5 209.7 53.0 203.5 60.5 203.2 62.0 203.5 62.8 204.5 61.3 206.5 58.3 208.5 48.6 212.5 35.5 215.2 19.5 216.5ZM61.5 231.6 53.0 231.5 18.5 225.3 0.5 223.9 0.0 222.5 0.0 219.5 0.5 218.2 15.5 218.4 29.5 219.1 40.2 220.5 51.6 223.5 58.3 226.5 62.3 229.5 62.8 230.5 61.5 231.6ZM49.5 243.5 42.8 242.5 13.5 234.2 0.5 232.6 0.1 226.5 0.5 225.8 9.7 226.5 21.7 229.5 40.2 237.5 47.5 241.5 49.5 243.5Z"/><path fill="#ff0e00" fill-rule="evenodd" d="M8.5 208.6 0.5 209.1 0.0 206.5 0.5 202.6 11.2 201.5 38.5 194.5 41.5 194.1 43.1 194.5 36.9 198.5 26.4 203.5 18.1 206.5 8.5 208.6ZM17.5 216.5 0.5 216.8 0.0 215.5 0.0 212.5 0.5 211.2 18.5 209.8 49.5 204.5 56.5 204.1 58.8 204.5 59.5 205.5 57.9 207.5 54.7 209.5 43.7 213.5 32.3 215.5 17.5 216.5ZM58.5 230.6 55.5 231.0 49.5 230.5 18.5 225.2 0.5 223.8 0.0 222.5 0.0 219.5 0.5 218.2 15.5 218.4 29.5 219.2 39.0 220.5 47.2 222.5 54.7 225.5 58.9 228.5 59.5 229.5 58.5 230.6ZM42.5 240.9 38.5 240.5 11.5 233.6 0.5 232.4 0.2 226.5 0.5 225.9 9.1 226.5 21.1 229.5 36.9 236.5 42.0 239.5 43.1 240.5 42.5 240.9Z"/><path fill="#ff1e00" fill-rule="evenodd" d="M8.5 208.5 0.5 209.1 0.0 206.5 0.5 202.8 10.5 201.9 33.5 196.5 36.5 196.1 37.8 196.5 33.8 199.5 23.2 204.5 17.5 206.5 8.5 208.5ZM16.5 216.5 0.5 216.7 0.0 215.5 0.0 212.5 0.5 211.2 17.5 210.0 47.5 205.2 54.5 205.0 56.1 205.5 56.5 206.5 54.6 208.5 51.1 210.5 42.5 213.5 31.2 215.5 16.5 216.5ZM55.5 229.8 52.5 230.1 47.5 229.8 17.5 225.0 0.5 223.8 0.0 222.5 0.0 219.5 0.5 218.3 14.5 218.4 28.5 219.2 37.9 220.5 46.0 222.5 53.1 225.5 56.5 228.5 55.5 229.8ZM37.5 238.7 33.5 238.5 11.5 233.3 0.5 232.2 0.2 226.5 0.5 225.9 8.5 226.5 17.5 228.5 25.6 231.5 31.9 234.5 36.9 237.5 37.8 238.5 37.5 238.7Z"/><path fill="#ff2d00" fill-rule="evenodd" d="M7.5 208.5 0.5 209.0 0.1 206.5 0.5 203.0 11.5 201.9 30.5 198.0 32.5 197.9 33.3 198.5 28.9 201.5 22.6 204.5 13.3 207.5 7.5 208.5ZM14.5 216.5 0.5 216.7 0.0 215.5 0.0 212.5 0.5 211.3 16.5 210.2 44.5 205.9 50.5 205.6 53.8 206.5 53.7 207.5 51.5 209.5 47.5 211.5 41.4 213.5 30.2 215.5 14.5 216.5ZM53.5 228.7 50.5 229.4 46.5 229.3 16.5 224.8 0.5 223.7 0.0 222.5 0.0 219.5 0.5 218.3 14.5 218.5 27.5 219.2 36.9 220.5 44.8 222.5 49.7 224.5 52.8 226.5 53.7 227.5 53.5 228.7ZM32.5 237.1 27.5 236.5 10.5 232.9 0.5 232.0 0.3 226.5 0.5 226.0 7.9 226.5 17.0 228.5 28.9 233.5 33.3 236.5 32.5 237.1Z"/><path fill="#ff3c00" fill-rule="evenodd" d="M6.5 208.6 0.5 208.9 0.1 206.5 0.5 203.2 9.5 202.5 26.5 199.4 29.7 199.5 29.1 200.5 26.0 202.5 19.4 205.5 12.8 207.5 6.5 208.6ZM12.5 216.5 0.5 216.6 0.0 214.5 0.4 211.5 16.5 210.3 43.5 206.4 49.5 206.4 51.5 207.5 51.0 208.5 48.3 210.5 39.5 213.7 29.2 215.5 12.5 216.5ZM49.5 228.6 42.5 228.5 16.5 224.7 0.5 223.7 0.0 219.5 0.5 218.4 12.9 218.5 26.5 219.2 35.9 220.5 43.6 222.5 48.3 224.5 51.0 226.5 51.5 227.5 49.5 228.6ZM29.5 235.6 25.7 235.5 8.5 232.4 0.5 231.8 0.3 226.5 0.5 226.1 7.1 226.5 16.5 228.5 26.0 232.5 29.1 234.5 29.5 235.6Z"/><path fill="#ff4b00" fill-rule="evenodd" d="M5.5 208.6 0.5 208.8 0.1 206.5 0.5 203.3 8.5 202.8 23.4 200.5 26.4 200.5 26.2 201.5 24.9 202.5 18.8 205.5 12.2 207.5 5.5 208.6ZM10.5 216.5 0.5 216.6 0.0 214.5 0.4 211.5 14.5 210.6 41.5 207.0 46.5 206.9 49.0 207.5 49.2 208.5 47.0 210.5 38.5 213.7 28.2 215.5 10.5 216.5ZM48.5 227.7 41.5 228.0 14.5 224.4 0.5 223.6 0.0 219.5 0.5 218.4 12.5 218.6 25.5 219.3 34.9 220.5 42.5 222.5 47.0 224.5 49.2 226.5 48.5 227.7ZM25.5 234.6 8.5 232.2 0.5 231.7 0.3 226.5 6.4 226.5 15.9 228.5 24.9 232.5 26.2 233.5 26.4 234.5 25.5 234.6Z"/><path fill="#ff5a00" fill-rule="evenodd" d="M5.5 208.5 0.5 208.7 0.1 206.5 0.5 203.5 8.5 203.0 20.5 201.4 23.8 201.5 23.6 202.5 22.2 203.5 18.1 205.5 11.6 207.5 5.5 208.5ZM7.5 216.5 0.5 216.5 0.0 214.5 0.5 211.5 13.5 210.7 40.5 207.4 45.7 207.5 47.3 208.5 46.9 209.5 43.9 211.5 34.0 214.5 23.5 215.8 7.5 216.5ZM45.5 227.5 39.1 227.5 13.5 224.3 0.5 223.5 0.0 219.5 0.5 218.5 12.5 218.6 25.5 219.3 34.0 220.5 41.5 222.5 45.7 224.5 47.3 226.5 45.5 227.5ZM23.5 233.6 0.5 231.5 0.4 226.5 5.5 226.5 15.3 228.5 22.2 231.5 23.6 232.5 23.5 233.6Z"/><path fill="#ff6a00" fill-rule="evenodd" d="M3.5 208.6 0.5 208.7 0.5 203.7 18.5 202.2 21.8 202.5 19.6 204.5 14.7 206.5 3.5 208.6ZM1.5 216.5 0.5 216.5 0.1 215.5 0.5 211.5 13.5 210.8 38.5 207.9 42.5 207.9 45.2 208.5 45.3 209.5 42.8 211.5 33.1 214.5 20.5 216.0 1.5 216.5ZM44.5 226.8 37.5 227.0 13.5 224.2 0.5 223.5 0.1 219.5 0.5 218.5 11.5 218.6 24.5 219.3 32.5 220.4 37.4 221.5 42.8 223.5 45.3 225.5 45.2 226.5 44.5 226.8ZM21.5 232.6 18.5 232.8 0.5 231.3 0.4 226.5 6.5 226.8 14.7 228.5 19.6 230.5 21.1 231.5 21.5 232.6Z"/><path fill="#ff7900" fill-rule="evenodd" d="M2.5 208.5 0.5 208.5 0.5 203.9 17.5 202.7 19.8 203.5 18.6 204.5 14.1 206.5 10.4 207.5 2.5 208.5ZM24.5 215.6 0.5 216.4 0.1 212.5 0.5 211.6 13.5 210.9 35.5 208.4 41.5 208.3 42.6 208.5 43.7 209.5 41.6 211.5 36.5 213.5 24.5 215.6ZM42.5 226.5 35.5 226.6 13.5 224.1 0.5 223.4 0.1 219.5 0.5 218.6 12.5 218.7 24.5 219.4 32.2 220.5 41.6 223.5 43.7 225.5 42.5 226.5ZM19.5 231.8 16.5 232.2 0.5 231.1 0.5 226.5 7.5 227.0 14.1 228.5 18.6 230.5 19.8 231.5 19.5 231.8Z"/><path fill="#ff8800" fill-rule="evenodd" d="M9.5 207.5 0.5 208.5 0.5 204.0 17.8 203.5 17.6 204.5 15.9 205.5 9.5 207.5ZM23.5 215.6 0.5 216.4 0.1 212.5 0.5 211.6 12.5 211.0 34.5 208.7 39.5 208.7 42.0 209.5 41.8 210.5 40.6 211.5 35.6 213.5 23.5 215.6ZM41.5 225.8 35.5 226.3 12.5 224.0 0.5 223.4 0.1 219.5 0.5 218.6 9.5 218.7 29.5 220.2 38.5 222.5 41.8 224.5 42.0 225.5 41.5 225.8ZM17.5 231.6 0.5 231.0 0.5 226.5 8.5 227.3 13.4 228.5 17.6 230.5 17.5 231.6Z"/><path fill="#ff9700" fill-rule="evenodd" d="M8.5 207.6 0.5 208.4 0.5 204.2 13.5 203.7 16.4 204.5 12.7 206.5 8.5 207.6ZM22.5 215.6 0.5 216.3 0.2 212.5 0.5 211.7 12.5 211.1 33.5 209.0 39.5 209.3 40.2 209.5 40.5 210.4 39.5 211.5 34.7 213.5 22.5 215.6ZM39.5 225.7 32.5 225.9 12.5 223.9 0.5 223.3 0.1 219.5 0.5 218.7 10.5 218.8 29.5 220.3 34.7 221.5 39.5 223.5 40.5 224.5 40.2 225.5 39.5 225.7ZM15.5 231.1 0.5 230.8 0.5 226.6 8.5 227.4 12.7 228.5 16.4 230.5 15.5 231.1Z"/><path fill="#ffa600" fill-rule="evenodd" d="M7.5 207.6 0.5 208.2 0.5 204.4 11.5 204.1 14.8 204.5 14.2 205.5 12.0 206.5 7.5 207.6ZM22.5 215.5 0.5 216.3 0.2 212.5 0.5 211.8 31.5 209.4 37.5 209.4 39.2 210.5 38.4 211.5 33.9 213.5 22.5 215.5ZM37.5 225.6 30.5 225.6 12.5 223.8 0.5 223.2 0.2 219.5 0.5 218.7 12.5 218.9 29.7 220.5 33.9 221.5 38.4 223.5 39.2 224.5 37.5 225.6ZM14.5 230.6 0.5 230.6 0.5 226.8 8.3 227.5 12.0 228.5 14.2 229.5 14.5 230.6Z"/><path fill="#ffb600" fill-rule="evenodd" d="M6.5 207.6 0.5 208.1 0.5 204.6 11.5 204.4 12.5 204.6 13.1 205.5 11.2 206.5 6.5 207.6ZM21.5 215.5 0.5 216.2 0.2 212.5 0.5 211.8 31.5 209.6 35.5 209.7 37.8 210.5 37.3 211.5 33.0 213.5 21.5 215.5ZM37.5 224.7 35.5 225.3 31.5 225.4 0.5 223.2 0.2 219.5 0.5 218.8 7.5 218.8 25.5 220.0 35.7 222.5 37.3 223.5 37.5 224.7ZM11.5 230.6 0.5 230.4 0.5 226.9 7.4 227.5 13.1 229.5 12.5 230.4 11.5 230.6Z"/><path fill="#ffc500" fill-rule="evenodd" d="M6.5 207.5 0.5 207.9 0.5 204.8 9.5 204.8 11.9 205.5 10.3 206.5 6.5 207.5ZM20.5 215.5 0.5 216.2 0.2 212.5 0.5 211.9 28.5 210.0 33.5 209.9 36.3 210.5 36.3 211.5 32.2 213.5 20.5 215.5ZM35.5 224.8 29.5 225.1 0.5 223.1 0.2 219.5 0.5 218.8 10.5 219.0 26.5 220.3 34.8 222.5 36.3 223.5 36.3 224.5 35.5 224.8ZM11.5 229.8 0.5 230.2 0.5 227.1 6.5 227.5 10.3 228.5 11.9 229.5 11.5 229.8Z"/><path fill="#ffd400" fill-rule="evenodd" d="M4.5 207.6 0.5 207.8 0.5 205.0 10.5 205.5 9.4 206.5 4.5 207.6ZM19.5 215.5 0.5 216.1 0.3 212.5 0.5 211.9 29.5 210.1 34.5 210.5 35.2 211.5 31.4 213.5 19.5 215.5ZM34.5 224.5 27.5 224.8 0.5 223.1 0.2 219.5 0.5 218.9 10.5 219.0 25.5 220.2 33.9 222.5 35.2 223.5 34.5 224.5ZM9.5 229.7 0.5 230.0 0.5 227.2 5.4 227.5 9.4 228.5 10.5 229.5 9.5 229.7Z"/><path fill="#ffe300" fill-rule="evenodd" d="M3.5 207.5 0.5 207.7 0.5 205.2 8.5 205.5 8.3 206.5 3.5 207.5ZM18.5 215.5 0.5 216.1 0.3 212.5 0.5 212.0 27.5 210.4 32.4 210.5 34.0 211.5 30.6 213.5 18.5 215.5ZM31.5 224.6 0.5 223.0 0.3 219.5 0.5 218.9 12.5 219.2 26.5 220.5 30.6 221.5 34.0 223.5 31.5 224.6ZM7.5 229.6 0.5 229.8 0.5 227.3 4.0 227.5 8.3 228.5 8.5 229.5 7.5 229.6Z"/><path fill="#fff200" fill-rule="evenodd" d="M1.5 207.5 0.5 207.5 0.5 205.4 5.5 205.6 7.0 206.5 1.5 207.5ZM17.5 215.5 0.5 216.0 0.3 212.5 0.5 212.1 26.5 210.6 30.5 210.7 32.9 211.5 32.1 212.5 29.8 213.5 17.5 215.5ZM32.5 223.7 27.5 224.4 0.5 222.9 0.3 219.5 0.5 219.0 8.5 219.1 22.5 220.0 29.8 221.5 32.1 222.5 32.9 223.5 32.5 223.7ZM4.5 229.5 0.5 229.6 0.5 227.5 7.0 228.5 4.5 229.5Z"/><path fill="#ffff04" fill-rule="evenodd" d="M4.5 206.6 0.5 207.1 0.5 205.9 5.3 206.5 4.5 206.6ZM16.5 215.5 0.5 215.9 0.3 212.5 0.5 212.1 25.5 210.8 31.6 211.5 31.2 212.5 29.0 213.5 16.5 215.5ZM31.5 223.6 25.5 224.2 0.5 222.9 0.3 219.5 0.5 219.1 9.5 219.2 22.5 220.2 29.0 221.5 31.2 222.5 31.5 223.6ZM4.5 228.8 0.5 229.1 0.5 227.9 5.3 228.5 4.5 228.8Z"/><path fill="#ffff1b" fill-rule="evenodd" d="M2.5 206.5 0.5 206.5 2.5 206.5ZM15.5 215.5 0.5 215.9 0.4 212.5 23.5 211.0 30.3 211.5 30.3 212.5 28.2 213.5 24.2 214.5 15.5 215.5ZM29.5 223.7 23.5 224.0 0.5 222.8 0.3 219.5 0.5 219.1 12.5 219.3 24.2 220.5 30.3 222.5 30.3 223.5 29.5 223.7ZM2.5 228.5 0.5 228.5 2.5 228.5Z"/><path fill="#ffff32" fill-rule="evenodd" d="M14.5 215.5 0.5 215.8 0.4 212.5 24.5 211.2 28.8 211.5 29.3 212.5 23.4 214.5 14.5 215.5ZM28.5 223.6 22.5 223.8 0.5 222.7 0.4 219.5 12.5 219.4 23.4 220.5 29.3 222.5 28.5 223.6Z"/><path fill="#ffff48" fill-rule="evenodd" d="M12.5 215.5 0.5 215.8 0.4 212.5 23.5 211.4 26.9 211.5 28.4 212.5 26.6 213.5 22.6 214.5 12.5 215.5ZM26.5 223.5 0.5 222.7 0.4 219.5 12.5 219.5 22.6 220.5 26.6 221.5 28.4 222.5 26.5 223.5Z"/><path fill="#ffff5f" fill-rule="evenodd" d="M11.5 215.5 0.5 215.7 0.4 212.5 22.5 211.5 25.5 211.7 27.4 212.5 25.8 213.5 21.8 214.5 11.5 215.5ZM22.5 223.5 0.5 222.6 0.4 219.5 9.5 219.4 18.5 220.1 25.8 221.5 27.4 222.5 25.5 223.3 22.5 223.5Z"/><path fill="#ffff76" fill-rule="evenodd" d="M9.5 215.5 0.5 215.7 0.5 212.5 21.5 211.7 26.3 212.5 25.0 213.5 21.0 214.5 9.5 215.5ZM25.5 222.8 20.5 223.3 0.5 222.6 0.4 219.5 10.5 219.5 21.0 220.5 25.0 221.5 26.3 222.5 25.5 222.8Z"/><path fill="#ffff8d" fill-rule="evenodd" d="M8.5 215.5 0.5 215.6 0.5 212.5 20.5 211.9 25.2 212.5 24.2 213.5 20.2 214.5 8.5 215.5ZM24.5 222.7 19.5 223.1 0.5 222.5 0.5 219.5 8.6 219.5 20.2 220.5 24.2 221.5 25.2 222.5 24.5 222.7Z"/><path fill="#ffffa4" fill-rule="evenodd" d="M5.5 215.5 0.5 215.6 0.5 212.7 18.5 212.1 24.0 212.5 23.3 213.5 19.4 214.5 5.5 215.5ZM23.5 222.6 17.5 222.9 0.5 222.3 0.5 219.5 19.4 220.5 23.3 221.5 24.0 222.5 23.5 222.6Z"/><path fill="#ffffbb" fill-rule="evenodd" d="M17.5 214.6 0.5 215.5 0.4 213.5 0.5 212.9 7.4 212.5 22.6 212.5 22.5 213.5 17.5 214.6ZM22.5 222.5 16.5 222.8 0.5 222.1 0.5 219.5 18.5 220.5 22.5 221.5 22.5 222.5Z"/><path fill="#ffffd1" fill-rule="evenodd" d="M17.5 214.5 0.5 215.2 0.5 213.5 0.5 213.1 16.5 212.3 21.0 212.5 21.5 213.5 17.5 214.5ZM20.5 222.5 0.5 221.9 0.5 219.8 17.6 220.5 21.5 221.5 20.5 222.5Z"/><path fill="#ffffe8" fill-rule="evenodd" d="M16.5 214.5 0.5 214.8 0.5 213.5 16.5 212.5 19.5 212.7 20.6 213.5 16.5 214.5ZM17.5 222.5 0.5 221.7 0.5 220.2 15.5 220.4 20.6 221.5 19.5 222.3 17.5 222.5Z"/></g><g transform="translate(1142,108) scale(0.99541,1.00000)"><rect width="436" height="435" fill="#000"/><path fill="#100000" fill-rule="evenodd" d="M51.5 216.5 0.5 217.5 0.0 216.5 0.0 215.5 0.0 201.5 0.1 197.5 0.5 196.7 3.5 195.8 6.6 193.5 13.5 185.7 56.0 124.5 85.5 84.0 118.5 41.6 152.8 0.5 201.5 0.1 264.6 0.5 238.6 26.5 211.1 52.5 182.1 78.5 151.5 104.5 119.4 130.5 86.8 155.5 53.8 179.5 25.9 198.5 27.1 198.5 27.5 197.8 28.7 197.5 30.5 196.0 32.1 195.5 98.5 156.1 144.5 130.8 196.5 104.4 246.5 81.4 297.5 60.5 346.5 43.2 371.5 35.5 393.5 29.5 414.5 24.5 435.5 20.3 435.5 140.5 397.2 155.5 354.3 169.5 307.5 182.2 259.5 192.8 210.4 201.5 158.5 208.5 105.8 213.5 51.5 216.5ZM23.7 200.5 25.2 199.5 24.5 199.3 23.0 200.5 23.7 200.5ZM21.9 201.5 21.1 201.5 21.9 201.5ZM19.9 202.5 19.3 202.5 19.9 202.5ZM14.7 205.5 14.3 205.5 14.7 205.5ZM12.7 206.5 12.3 206.5 12.7 206.5ZM264.5 434.5 201.5 434.9 152.8 434.5 118.5 393.4 85.5 351.0 56.0 310.5 13.5 249.3 5.5 240.5 2.5 238.8 0.5 238.3 0.0 234.5 0.0 218.5 0.5 217.5 44.5 218.2 78.5 219.7 112.5 222.0 173.5 228.3 203.8 232.5 232.5 237.2 261.1 242.5 289.2 248.5 340.5 261.5 367.4 269.5 391.5 277.5 413.4 285.5 435.5 294.5 435.5 414.7 414.5 410.5 393.5 405.5 371.5 399.5 346.5 391.8 297.5 374.5 246.5 353.6 196.5 330.6 144.5 304.2 98.5 278.9 32.1 239.5 30.5 239.0 28.7 237.5 27.5 237.2 27.1 236.5 25.9 236.5 53.8 255.5 86.8 279.5 120.6 305.5 152.7 331.5 183.2 357.5 212.2 383.5 239.6 409.5 264.5 434.5ZM12.7 228.5 12.3 228.5 12.7 228.5ZM14.7 229.5 14.3 229.5 14.7 229.5ZM19.9 232.5 19.3 232.5 19.9 232.5ZM21.9 233.5 21.1 233.5 21.9 233.5ZM25.2 235.5 23.0 234.5 24.5 235.7 25.2 235.5Z"/><path fill="#200000" fill-rule="evenodd" d="M35.5 216.5 0.5 217.4 0.0 216.5 0.0 213.5 0.0 210.5 0.0 201.5 0.5 197.8 2.5 197.4 5.8 195.5 11.9 189.5 45.5 145.8 64.5 122.3 85.5 98.1 105.5 77.0 125.5 57.9 143.5 42.7 159.5 31.4 172.5 24.7 176.5 23.4 180.5 22.9 183.5 23.4 185.2 24.5 186.4 26.5 186.9 29.5 185.2 37.5 180.6 47.5 172.6 60.5 162.4 74.5 149.9 89.5 136.3 104.5 120.5 120.5 104.6 135.5 86.5 151.5 67.2 167.5 49.1 181.5 20.5 201.8 15.7 204.5 16.5 204.7 17.5 203.8 18.8 203.5 73.5 173.2 109.5 155.4 147.5 139.4 166.5 132.5 183.5 127.1 201.5 122.3 218.5 118.8 234.5 116.6 247.5 116.0 258.5 116.8 267.5 119.0 273.7 122.5 275.6 124.5 277.3 127.5 277.8 130.5 277.5 133.5 274.5 140.5 268.9 147.5 259.9 155.5 248.2 163.5 233.8 171.5 218.8 178.5 201.1 185.5 183.5 191.5 162.7 197.5 142.1 202.5 122.4 206.5 101.5 210.0 79.5 212.9 57.5 215.1 35.5 216.5ZM15.0 205.5 13.9 205.5 15.0 205.5ZM13.0 206.5 12.0 206.5 13.0 206.5ZM10.8 207.5 10.1 207.5 10.8 207.5ZM5.6 209.5 5.0 209.5 5.6 209.5ZM183.5 411.6 178.5 412.0 170.5 409.5 160.5 404.2 149.5 396.8 137.5 387.5 123.5 375.3 109.5 362.0 94.5 346.6 76.5 326.8 57.5 304.2 12.5 246.2 5.8 239.5 2.5 237.6 0.5 237.2 0.0 233.5 0.0 224.5 0.0 220.5 0.0 218.5 0.5 217.6 41.5 218.8 83.0 222.5 122.4 228.5 142.1 232.5 161.5 237.2 180.2 242.5 195.5 247.5 211.6 253.5 227.6 260.5 239.5 266.5 251.3 273.5 261.2 280.5 268.9 287.5 273.2 292.5 275.7 296.5 277.3 300.5 277.8 304.5 277.3 307.5 275.5 310.7 272.4 313.5 268.5 315.6 263.5 317.2 257.5 318.3 242.5 318.9 225.5 317.4 205.5 313.6 185.5 308.5 165.5 302.2 144.5 294.5 120.5 284.5 99.5 274.9 78.5 264.4 55.5 252.2 18.8 231.5 17.5 231.2 16.5 230.3 15.7 230.5 20.5 233.2 45.1 250.5 80.6 278.5 113.2 307.5 140.9 335.5 153.4 349.5 163.9 362.5 172.6 374.5 179.5 385.5 184.4 395.5 186.7 403.5 186.4 408.5 185.2 410.5 183.5 411.6ZM5.6 225.5 5.0 225.5 5.6 225.5ZM10.8 227.5 10.1 227.5 10.8 227.5ZM13.0 228.5 12.0 228.5 13.0 228.5ZM15.0 229.5 13.9 229.5 15.0 229.5Z"/><path fill="#300000" fill-rule="evenodd" d="M28.5 216.5 0.5 217.4 0.0 216.5 0.0 213.5 0.2 210.5 0.0 208.5 0.0 202.5 0.5 198.6 5.5 196.6 11.1 191.5 48.5 146.8 62.5 131.4 75.5 118.3 86.5 108.2 97.5 99.3 106.5 93.1 114.5 89.0 119.5 87.8 122.8 88.5 123.7 89.5 124.3 91.5 123.5 96.5 120.5 103.5 115.7 111.5 108.5 121.5 100.2 131.5 81.3 151.5 58.3 172.5 33.1 192.5 13.5 205.5 14.5 205.9 15.3 205.5 52.5 185.8 78.5 173.5 102.5 163.7 124.5 156.5 146.5 151.5 156.5 150.2 165.5 149.9 173.0 150.5 178.5 152.0 182.7 154.5 184.7 157.5 184.8 161.5 183.3 165.5 179.4 170.5 173.9 175.5 166.8 180.5 158.2 185.5 147.9 190.5 135.6 195.5 110.6 203.5 84.7 209.5 57.5 213.8 28.5 216.5ZM13.3 206.5 12.5 206.1 11.7 206.5 12.5 206.9 13.3 206.5ZM11.1 207.5 9.7 207.5 11.1 207.5ZM8.7 208.5 7.4 208.5 8.7 208.5ZM5.8 209.5 4.3 209.5 5.8 209.5ZM122.5 346.7 118.5 347.1 113.5 345.6 107.5 342.5 99.5 337.2 81.5 322.3 61.5 302.5 42.5 281.3 12.0 244.5 5.6 238.5 0.5 236.4 0.0 232.5 0.0 226.5 0.2 224.5 0.0 223.5 0.0 220.5 0.0 218.5 0.5 217.6 28.7 218.5 55.5 220.9 81.5 224.9 106.9 230.5 130.1 237.5 150.1 245.5 166.8 254.5 173.9 259.5 179.4 264.5 183.8 270.5 185.0 275.5 183.6 279.5 179.5 282.6 172.5 284.6 163.5 285.2 152.5 284.4 139.5 282.2 114.5 275.4 85.5 264.6 55.5 250.7 15.3 229.5 14.5 229.1 13.5 229.5 31.7 241.5 53.5 258.5 73.9 276.5 93.0 295.5 108.5 313.5 119.4 329.5 122.4 335.5 124.0 340.5 124.1 344.5 122.5 346.7ZM5.8 225.5 4.3 225.5 5.8 225.5ZM8.7 226.5 7.4 226.5 8.7 226.5ZM11.1 227.5 9.7 227.5 11.1 227.5ZM13.3 228.5 12.5 228.1 11.7 228.5 12.5 228.9 13.3 228.5Z"/><path fill="#400000" fill-rule="evenodd" d="M23.5 216.6 0.5 217.3 0.0 216.5 0.0 214.5 0.0 211.5 0.4 210.5 0.0 208.5 0.0 203.5 0.5 199.1 5.1 197.5 11.0 192.5 40.5 159.1 59.5 140.0 74.5 127.6 80.5 123.7 85.5 121.2 89.5 120.2 91.5 120.5 92.5 121.5 92.9 123.5 92.1 127.5 89.8 132.5 85.5 139.5 72.6 155.5 56.9 171.5 38.6 187.5 19.7 201.5 8.5 208.2 7.1 208.5 8.5 208.7 9.5 207.6 10.5 207.9 11.4 207.5 11.5 206.8 13.6 206.5 43.5 191.4 61.5 183.1 78.5 176.5 94.5 171.4 111.5 167.7 124.5 166.8 129.5 167.2 134.0 168.5 137.1 170.5 138.3 172.5 138.4 175.5 137.3 178.5 134.1 182.5 129.6 186.5 118.4 193.5 102.8 200.5 84.5 206.5 65.5 211.0 44.4 214.5 23.5 216.6ZM6.1 209.5 4.0 209.5 6.1 209.5ZM90.5 314.8 85.5 313.8 79.5 310.7 71.5 305.2 63.5 298.6 53.5 289.3 42.5 278.1 11.0 242.5 5.1 237.5 0.5 235.9 0.0 229.5 0.0 226.5 0.4 224.5 0.0 223.5 0.0 221.5 0.0 218.5 0.5 217.7 21.5 218.3 42.5 220.3 63.1 223.5 80.8 227.5 97.3 232.5 112.3 238.5 125.3 245.5 134.1 252.5 137.3 256.5 138.6 260.5 137.8 263.5 134.5 266.3 129.5 267.8 122.5 268.2 114.5 267.7 105.5 266.2 87.5 261.6 67.5 254.3 45.5 244.6 13.6 228.5 11.5 228.2 11.4 227.5 10.5 227.1 9.5 227.4 8.5 226.3 7.1 226.5 8.5 226.8 19.7 233.5 36.1 245.5 53.6 260.5 68.9 275.5 81.8 290.5 89.8 302.5 92.1 307.5 92.9 311.5 92.5 313.5 90.5 314.8ZM6.1 225.5 4.0 225.5 6.1 225.5Z"/><path fill="#4f0000" fill-rule="evenodd" d="M20.5 216.5 0.5 217.3 0.0 216.5 0.0 213.5 0.0 211.5 0.9 210.5 0.0 209.5 0.0 207.5 0.0 202.5 0.5 199.6 5.5 197.7 10.7 193.5 35.5 166.8 49.5 153.4 60.5 144.7 68.5 140.3 71.5 139.6 73.5 140.4 74.1 142.5 73.4 145.5 71.6 149.5 67.8 155.5 58.1 167.5 45.2 180.5 31.4 192.5 17.8 202.5 8.5 208.0 6.9 208.5 8.5 208.7 11.6 207.5 38.5 194.6 52.5 188.5 65.5 183.6 76.5 180.3 89.5 177.6 99.5 176.9 104.5 177.5 107.5 178.5 109.0 179.5 110.5 181.5 110.6 183.5 109.5 186.5 107.1 189.5 103.7 192.5 94.1 198.5 83.0 203.5 68.0 208.5 54.5 211.8 38.5 214.6 20.5 216.5ZM6.3 209.5 3.8 209.5 6.3 209.5ZM73.5 294.6 72.5 295.2 70.5 295.3 66.5 293.9 60.5 290.3 54.5 285.8 37.5 270.2 9.6 240.5 4.5 236.7 0.5 235.4 0.0 232.5 0.0 227.5 0.0 225.5 0.9 224.5 0.0 223.5 0.0 221.5 0.0 218.5 0.5 217.7 16.5 218.2 32.5 219.6 49.5 222.2 64.3 225.5 77.6 229.5 90.1 234.5 99.4 239.5 107.1 245.5 109.5 248.5 110.6 251.5 109.9 254.5 107.5 256.5 103.5 257.7 98.5 258.1 84.5 256.6 71.5 253.3 55.5 247.7 38.5 240.4 11.6 227.5 8.5 226.3 6.9 226.5 16.3 231.5 27.6 239.5 40.8 250.5 52.4 261.5 62.4 272.5 69.8 282.5 73.7 290.5 74.1 292.5 73.5 294.6ZM6.3 225.5 3.8 225.5 6.3 225.5Z"/><path fill="#5f0000" fill-rule="evenodd" d="M18.5 216.5 0.5 217.2 0.0 216.5 0.0 211.5 0.5 210.6 1.7 210.5 0.5 210.3 0.0 208.5 0.0 203.5 0.5 200.0 4.5 198.7 9.1 195.5 39.5 165.2 49.5 157.2 56.5 153.3 59.5 152.6 61.1 153.5 61.4 155.5 60.5 158.5 55.7 166.5 46.5 177.5 35.2 188.5 23.1 198.5 14.4 204.5 6.7 208.5 6.5 209.4 5.5 209.1 3.5 209.5 5.5 209.8 9.4 208.5 42.5 193.6 53.5 189.5 64.5 186.2 74.5 184.2 83.5 183.7 89.5 185.1 91.8 187.5 91.9 189.5 91.1 191.5 86.4 196.5 78.5 201.5 69.8 205.5 58.1 209.5 46.2 212.5 32.5 215.0 18.5 216.5ZM60.5 282.1 58.5 282.3 54.5 280.8 45.5 274.8 32.5 263.2 10.2 240.5 4.9 236.5 0.5 235.0 0.0 231.5 0.0 226.5 0.5 224.7 1.7 224.5 0.5 224.4 0.0 223.5 0.0 218.5 0.5 217.8 14.5 218.2 28.5 219.5 41.3 221.5 54.5 224.5 67.2 228.5 76.6 232.5 83.7 236.5 89.7 241.5 91.6 244.5 92.0 246.5 91.3 248.5 89.5 249.9 86.5 250.9 82.5 251.3 71.5 250.3 61.5 248.0 50.5 244.4 35.5 238.4 10.5 226.9 5.5 225.2 3.5 225.5 5.5 225.9 6.5 225.6 6.7 226.5 12.8 229.5 20.4 234.5 31.8 243.5 42.6 253.5 51.8 263.5 58.4 272.5 61.2 278.5 61.4 280.5 60.5 282.1Z"/><path fill="#6f0000" fill-rule="evenodd" d="M16.5 216.5 0.5 217.2 0.0 216.5 0.0 211.5 0.5 210.6 2.2 210.5 0.5 210.2 0.0 208.5 0.0 203.5 0.5 200.3 3.7 199.5 8.4 196.5 34.5 171.7 41.5 166.2 47.5 162.7 50.5 161.9 52.0 162.5 52.3 164.5 51.7 166.5 47.6 173.5 39.2 183.5 28.7 193.5 18.6 201.5 8.5 207.7 3.2 209.5 5.5 209.9 8.5 208.9 37.5 196.5 55.8 190.5 63.5 189.0 70.5 188.5 76.1 189.5 78.4 191.5 78.3 194.5 75.1 198.5 69.4 202.5 61.3 206.5 53.2 209.5 41.5 212.7 29.5 215.0 16.5 216.5ZM51.5 272.9 49.5 273.0 47.5 272.3 39.5 267.3 29.5 258.8 9.6 239.5 4.5 235.9 0.5 234.7 0.0 231.5 0.0 226.5 0.5 224.8 2.2 224.5 0.5 224.4 0.0 223.5 0.0 219.5 0.5 217.8 12.5 218.2 24.5 219.3 36.5 221.2 46.4 223.5 56.1 226.5 63.6 229.5 71.1 233.5 76.1 237.5 78.3 240.5 78.7 242.5 77.7 244.5 76.5 245.3 70.5 246.5 61.5 245.7 45.5 241.5 32.5 236.5 9.7 226.5 5.5 225.1 3.2 225.5 8.5 227.3 17.2 232.5 26.3 239.5 35.2 247.5 43.7 256.5 49.6 264.5 52.3 270.5 52.3 271.5 51.5 272.9Z"/><path fill="#7f0000" fill-rule="evenodd" d="M2.5 210.2 0.5 210.1 0.0 208.5 0.0 203.5 0.5 200.6 4.4 199.5 8.9 196.5 27.5 179.4 36.5 172.2 42.5 169.1 44.5 169.0 45.2 169.5 45.1 172.5 42.4 177.5 36.9 184.5 30.1 191.5 22.1 198.5 15.4 203.5 8.5 207.6 2.8 209.5 2.5 210.2ZM14.5 216.6 0.5 217.2 0.0 215.5 0.0 211.5 0.5 210.7 5.5 209.9 9.9 208.5 36.5 197.5 48.5 193.9 55.5 192.5 61.5 192.2 65.5 192.7 68.3 194.5 68.6 195.5 68.2 197.5 64.7 201.5 58.5 205.5 51.8 208.5 35.1 213.5 14.5 216.6ZM64.5 242.5 56.5 242.6 45.5 240.3 31.5 235.6 9.5 226.3 5.5 225.1 0.5 224.3 0.0 222.5 0.0 218.5 0.5 217.8 7.5 218.0 24.0 219.5 37.5 222.1 49.2 225.5 60.3 230.5 66.9 235.5 68.2 237.5 68.5 239.9 67.3 241.5 64.5 242.5ZM44.5 266.0 41.5 265.6 35.5 262.1 27.5 255.6 8.9 238.5 4.4 235.5 0.5 234.4 0.0 228.5 0.5 224.9 2.5 224.8 2.8 225.5 5.5 226.1 12.2 229.5 20.8 235.5 29.0 242.5 36.9 250.5 42.4 257.5 45.4 263.5 45.2 265.5 44.5 266.0Z"/><path fill="#8f0000" fill-rule="evenodd" d="M1.5 209.9 0.5 209.9 0.0 208.5 0.0 204.5 0.5 200.9 4.5 199.7 8.1 197.5 24.5 183.1 31.5 177.6 36.5 174.8 39.6 174.5 40.1 175.5 39.7 177.5 37.6 181.5 33.0 187.5 26.2 194.5 19.1 200.5 12.0 205.5 5.5 208.8 1.5 209.9ZM13.5 216.5 0.5 217.1 0.0 215.5 0.0 211.5 0.5 210.7 5.5 210.0 9.5 208.8 30.5 200.3 43.5 196.3 50.5 195.1 55.5 195.0 58.5 195.6 60.7 197.5 60.0 200.5 57.1 203.5 52.4 206.5 45.8 209.5 31.5 213.8 13.5 216.5ZM57.5 239.7 50.5 239.9 40.5 237.9 29.5 234.3 8.5 225.9 0.5 224.3 0.0 222.5 0.0 218.5 0.5 217.9 6.5 218.0 21.5 219.4 32.7 221.5 43.1 224.5 52.4 228.5 59.2 233.5 60.5 235.5 60.7 237.5 59.5 238.9 57.5 239.7ZM39.5 260.6 36.5 260.2 31.5 257.4 24.5 251.9 8.1 237.5 4.5 235.3 0.5 234.1 0.0 228.5 0.5 225.1 5.5 226.2 12.0 229.5 17.8 233.5 25.1 239.5 32.1 246.5 37.6 253.5 40.0 258.5 39.5 260.6Z"/><path fill="#9f0000" fill-rule="evenodd" d="M1.5 209.7 0.5 209.8 0.0 208.5 0.0 204.5 0.5 201.1 3.5 200.5 8.6 197.5 23.5 184.9 29.5 180.6 33.5 178.7 35.5 179.0 35.5 181.5 32.5 186.5 28.4 191.5 22.3 197.5 16.2 202.5 10.1 206.5 5.5 208.7 1.5 209.7ZM12.5 216.5 0.5 217.1 0.0 215.5 0.0 211.5 0.5 210.8 8.5 209.2 28.5 201.5 39.5 198.3 49.5 197.3 52.5 197.9 54.4 199.5 54.2 201.5 51.6 204.5 42.9 209.5 29.5 213.8 12.5 216.5ZM50.5 237.6 44.5 237.6 35.5 235.7 8.5 225.8 0.5 224.2 0.0 222.5 0.0 218.5 0.5 217.9 6.5 218.1 20.8 219.5 30.7 221.5 40.4 224.5 48.8 228.5 53.6 232.5 54.5 234.5 54.4 235.5 53.5 236.6 50.5 237.6ZM35.5 256.0 33.5 256.3 29.5 254.4 23.5 250.1 8.6 237.5 3.5 234.5 0.5 233.9 0.0 228.5 0.5 225.2 5.5 226.3 10.1 228.5 16.2 232.5 22.3 237.5 28.4 243.5 32.5 248.5 35.5 253.5 35.5 256.0Z"/><path fill="#af0000" fill-rule="evenodd" d="M1.5 209.5 0.5 209.7 0.0 208.5 0.0 204.5 0.5 201.4 4.1 200.5 7.6 198.5 26.5 183.9 29.5 182.4 31.9 182.5 32.0 184.5 29.8 188.5 25.7 193.5 20.7 198.5 9.8 206.5 5.5 208.6 1.5 209.5ZM11.5 216.5 0.5 217.0 0.0 215.5 0.0 211.5 0.5 210.8 7.8 209.5 26.5 202.6 36.5 199.9 45.5 199.2 48.5 200.2 49.3 201.5 48.8 203.5 46.9 205.5 42.4 208.5 38.1 210.5 24.8 214.5 11.5 216.5ZM46.5 235.7 40.5 235.8 33.5 234.4 7.8 225.5 0.5 224.2 0.0 222.5 0.0 218.5 0.5 218.0 5.5 218.1 17.5 219.2 26.5 220.9 35.5 223.5 42.4 226.5 48.0 230.5 49.3 233.5 48.5 234.8 46.5 235.7ZM31.5 252.8 28.5 252.1 24.5 249.8 6.0 235.5 0.5 233.6 0.0 228.5 0.5 225.3 5.5 226.4 9.8 228.5 20.7 236.5 26.6 242.5 30.5 247.5 32.2 251.5 31.5 252.8Z"/><path fill="#bf0000" fill-rule="evenodd" d="M0.5 209.5 0.0 206.5 0.5 201.6 3.5 201.0 6.5 199.5 24.5 186.4 27.5 185.2 29.0 185.5 28.9 187.5 26.6 191.5 18.0 200.5 12.8 204.5 7.7 207.5 4.5 208.8 0.5 209.5ZM10.5 216.5 0.5 217.0 0.0 215.5 0.0 211.5 0.5 210.9 8.1 209.5 24.5 203.7 32.5 201.5 40.5 200.6 43.5 201.2 44.9 202.5 44.6 204.5 42.8 206.5 38.1 209.5 33.6 211.5 23.5 214.5 10.5 216.5ZM43.5 233.8 39.5 234.4 32.5 233.5 24.5 231.3 7.5 225.3 0.5 224.1 0.0 222.5 0.0 218.5 0.5 218.0 3.5 218.1 14.5 218.9 23.5 220.5 30.8 222.5 38.1 225.5 42.8 228.5 45.0 231.5 44.9 232.5 43.5 233.8ZM28.5 249.8 26.5 249.6 22.5 247.4 6.5 235.5 3.5 234.0 0.5 233.4 0.0 228.5 0.5 225.5 4.5 226.2 7.7 227.5 12.8 230.5 18.0 234.5 23.2 239.5 27.3 244.5 29.2 248.5 28.5 249.8Z"/><path fill="#ce0000" fill-rule="evenodd" d="M4.5 208.7 0.5 209.4 0.0 206.5 0.5 201.8 3.5 201.2 7.0 199.5 22.5 188.6 25.5 187.6 26.5 188.1 26.5 189.5 24.9 192.5 18.7 199.5 11.0 205.5 4.5 208.7ZM9.5 216.5 0.5 216.9 0.0 215.5 0.1 211.5 0.5 211.0 7.5 209.8 22.5 204.7 30.5 202.6 37.5 202.0 40.1 202.5 41.2 203.5 40.9 205.5 39.1 207.5 31.9 211.5 22.3 214.5 9.5 216.5ZM39.5 232.7 35.5 233.1 29.5 232.2 7.5 225.2 0.5 224.0 0.0 222.5 0.1 218.5 0.5 218.1 4.5 218.2 14.5 219.1 22.3 220.5 29.2 222.5 36.1 225.5 40.2 228.5 41.3 230.5 41.2 231.5 39.5 232.7ZM26.5 246.9 25.5 247.4 22.5 246.4 7.0 235.5 3.5 233.8 0.5 233.2 0.0 228.5 0.5 225.6 4.5 226.3 7.5 227.5 16.4 233.5 24.2 241.5 26.1 244.5 26.5 246.9Z"/><path fill="#de0000" fill-rule="evenodd" d="M4.5 208.6 0.5 209.4 0.0 206.5 0.5 202.0 3.3 201.5 6.5 200.0 20.5 190.7 23.5 189.7 24.4 190.5 22.6 194.5 17.2 200.5 10.8 205.5 4.5 208.6ZM8.5 216.5 0.5 216.9 0.0 215.5 0.1 211.5 0.5 211.0 7.5 209.8 28.5 203.5 34.5 203.1 36.8 203.5 38.0 204.5 38.2 205.5 36.9 207.5 30.4 211.5 21.2 214.5 8.5 216.5ZM36.5 231.6 32.5 231.9 27.5 231.3 7.5 225.2 0.5 224.0 0.0 222.5 0.1 218.5 0.5 218.1 4.5 218.2 13.5 219.1 21.2 220.5 27.9 222.5 32.5 224.5 36.9 227.5 38.2 229.5 38.0 230.5 36.5 231.6ZM23.5 245.3 19.5 243.8 5.6 234.5 0.5 233.0 0.0 228.5 0.5 225.6 7.3 227.5 16.0 233.5 20.1 237.5 23.3 241.5 24.4 244.5 23.5 245.3Z"/><path fill="#ee0000" fill-rule="evenodd" d="M4.5 208.5 0.5 209.3 0.0 206.5 0.5 202.2 6.1 200.5 19.5 192.1 21.5 191.6 22.4 192.5 20.4 196.5 15.7 201.5 10.5 205.5 4.5 208.5ZM7.5 216.6 0.5 216.8 0.0 215.5 0.2 211.5 7.5 209.9 26.5 204.4 32.5 204.1 34.3 204.5 35.4 205.5 35.3 206.5 33.8 208.5 26.6 212.5 17.5 215.1 7.5 216.6ZM33.5 230.7 30.5 231.0 25.5 230.4 6.5 224.8 0.5 223.9 0.0 222.5 0.2 218.5 4.5 218.3 13.5 219.2 20.2 220.5 26.6 222.5 30.9 224.5 34.8 227.5 35.4 229.5 33.5 230.7ZM21.5 243.4 17.5 241.8 6.1 234.5 0.5 232.8 0.0 228.5 0.5 225.7 7.1 227.5 14.5 232.5 21.1 239.5 22.4 242.5 21.5 243.4Z"/><path fill="#fe0000" fill-rule="evenodd" d="M3.5 208.7 0.5 209.2 0.1 208.5 0.5 202.4 6.5 200.5 17.5 193.9 19.5 193.2 20.6 193.5 20.2 195.5 18.9 197.5 14.2 202.5 8.7 206.5 3.5 208.7ZM6.5 216.6 0.5 216.8 0.0 215.5 0.0 213.5 0.5 211.1 6.5 210.2 25.5 205.1 30.5 205.0 32.3 205.5 33.0 206.5 32.8 207.5 31.0 209.5 25.4 212.5 16.5 215.1 6.5 216.6ZM31.5 229.8 28.5 230.2 23.5 229.6 6.5 224.8 0.5 223.9 0.0 222.5 0.2 218.5 3.5 218.3 10.5 218.9 22.7 221.5 27.7 223.5 32.1 226.5 33.0 228.5 31.5 229.8ZM20.5 241.6 19.5 241.8 17.5 241.1 6.5 234.5 0.5 232.6 0.0 228.5 0.5 225.8 6.8 227.5 13.0 231.5 18.9 237.5 20.6 240.5 20.5 241.6Z"/><path fill="#ff0e00" fill-rule="evenodd" d="M3.5 208.7 0.5 209.1 0.2 208.5 0.5 202.6 4.9 201.5 15.5 195.5 18.5 194.7 19.1 195.5 18.3 197.5 13.9 202.5 8.5 206.5 3.5 208.7ZM6.5 216.5 0.5 216.8 0.0 213.5 0.5 211.2 6.5 210.3 23.5 205.9 27.5 205.6 30.5 206.5 30.8 207.5 29.5 209.5 24.4 212.5 15.5 215.2 6.5 216.5ZM30.5 228.5 27.5 229.4 23.5 229.1 6.5 224.7 0.5 223.8 0.0 222.5 0.0 219.5 0.5 218.2 4.5 218.4 18.5 220.5 24.4 222.5 28.2 224.5 30.4 226.5 30.8 227.5 30.5 228.5ZM18.5 240.3 15.5 239.5 4.9 233.5 0.5 232.4 0.0 228.5 0.5 225.9 6.6 227.5 12.7 231.5 18.3 237.5 19.1 239.5 18.5 240.3Z"/><path fill="#ff1e00" fill-rule="evenodd" d="M3.5 208.6 0.5 209.0 0.0 206.5 0.5 202.8 5.4 201.5 15.5 196.2 17.5 196.2 17.5 197.5 16.3 199.5 12.4 203.5 8.2 206.5 3.5 208.6ZM5.5 216.5 0.3 216.5 0.0 213.5 0.5 211.2 5.5 210.6 22.5 206.4 26.5 206.3 28.8 207.5 28.8 208.5 26.9 210.5 20.9 213.5 13.4 215.5 5.5 216.5ZM27.5 228.5 21.5 228.4 5.5 224.4 0.5 223.8 0.0 221.5 0.3 218.5 10.5 219.0 20.9 221.5 25.4 223.5 28.1 225.5 28.8 227.5 27.5 228.5ZM17.5 238.8 15.5 238.8 5.4 233.5 0.5 232.2 0.0 228.5 0.5 226.0 6.4 227.5 11.2 230.5 16.3 235.5 17.5 237.5 17.5 238.8Z"/><path fill="#ff2d00" fill-rule="evenodd" d="M3.5 208.5 0.5 209.0 0.1 206.5 0.5 203.0 5.5 201.7 14.5 197.3 16.4 197.5 15.7 199.5 12.1 203.5 8.0 206.5 3.5 208.5ZM4.5 216.5 0.3 216.5 0.0 213.5 0.5 211.3 5.5 210.7 21.5 207.0 25.5 207.1 26.7 207.5 27.2 208.5 25.7 210.5 20.0 213.5 12.7 215.5 4.5 216.5ZM26.5 227.6 24.5 228.1 20.5 227.9 5.5 224.3 0.5 223.7 0.0 222.5 0.0 219.5 0.5 218.3 4.5 218.5 17.0 220.5 22.4 222.5 25.7 224.5 27.2 226.5 26.5 227.6ZM15.5 237.9 4.5 232.9 0.5 232.0 0.1 228.5 0.5 226.0 6.1 227.5 10.9 230.5 15.7 235.5 16.4 237.5 15.5 237.9Z"/><path fill="#ff3c00" fill-rule="evenodd" d="M2.5 208.7 0.5 208.9 0.3 208.5 0.5 203.1 4.5 202.3 13.5 198.2 15.1 198.5 14.4 200.5 10.6 204.5 5.9 207.5 2.5 208.7ZM3.5 216.5 0.4 216.5 0.0 213.5 0.5 211.3 5.5 210.8 20.0 207.5 23.9 207.5 25.5 208.5 24.6 210.5 19.3 213.5 12.1 215.5 3.5 216.5ZM23.5 227.6 18.5 227.3 5.5 224.2 0.5 223.7 0.0 219.5 0.5 218.4 6.5 218.7 12.1 219.5 19.3 221.5 23.3 223.5 25.4 225.5 25.5 226.5 23.5 227.6ZM14.5 236.9 12.5 236.4 4.5 232.7 0.5 231.9 0.1 228.5 0.5 226.1 5.9 227.5 10.6 230.5 14.4 234.5 15.1 236.5 14.5 236.9Z"/><path fill="#ff4b00" fill-rule="evenodd" d="M2.5 208.6 0.3 208.5 0.5 203.3 4.5 202.5 12.5 199.1 14.0 199.5 13.2 201.5 10.3 204.5 5.7 207.5 2.5 208.6ZM2.5 216.5 0.5 216.6 0.0 215.5 0.5 211.4 5.5 210.8 18.5 208.0 21.5 207.9 23.8 208.5 24.1 209.5 23.5 210.5 18.5 213.5 11.6 215.5 2.5 216.5ZM23.5 226.6 18.5 227.0 5.5 224.2 0.5 223.6 0.0 219.5 0.5 218.4 3.5 218.5 15.6 220.5 22.4 223.5 24.1 225.5 23.5 226.6ZM13.5 235.9 11.5 235.6 4.5 232.5 0.5 231.7 0.1 228.5 0.5 226.2 5.5 227.4 9.0 229.5 13.2 233.5 14.0 235.5 13.5 235.9Z"/><path fill="#ff5a00" fill-rule="evenodd" d="M2.5 208.5 0.4 208.5 0.5 203.5 4.5 202.7 11.5 200.0 12.5 199.9 13.0 200.5 11.9 202.5 8.7 205.5 5.4 207.5 2.5 208.5ZM1.5 216.5 0.5 216.5 0.0 215.5 0.5 211.4 17.5 208.4 21.5 208.5 22.8 209.5 22.5 210.5 20.0 212.5 15.0 214.5 8.5 215.9 1.5 216.5ZM21.5 226.5 16.5 226.5 5.5 224.1 0.5 223.6 0.0 219.5 0.5 218.5 3.5 218.6 15.0 220.5 21.5 223.5 22.8 225.5 21.5 226.5ZM12.5 235.1 3.5 232.0 0.5 231.5 0.1 228.5 0.5 226.3 5.4 227.5 8.7 229.5 12.7 233.5 13.0 234.5 12.5 235.1Z"/><path fill="#ff6a00" fill-rule="evenodd" d="M1.5 208.6 0.5 208.6 0.2 207.5 0.5 203.7 11.5 200.6 12.0 201.5 11.5 202.5 8.5 205.5 5.1 207.5 1.5 208.6ZM0.5 216.5 0.0 213.5 0.5 211.5 16.5 208.8 19.5 208.8 21.4 209.5 21.4 210.5 20.6 211.5 14.4 214.5 8.5 215.8 0.5 216.5ZM20.5 226.0 16.5 226.2 0.5 223.5 0.1 219.5 0.5 218.5 3.5 218.6 14.4 220.5 20.6 223.5 21.4 224.5 21.4 225.5 20.5 226.0ZM11.5 234.4 0.5 231.3 0.5 226.4 5.1 227.5 8.5 229.5 11.5 232.5 12.0 233.5 11.5 234.4Z"/><path fill="#ff7900" fill-rule="evenodd" d="M0.5 208.6 0.5 203.8 9.5 201.4 10.9 201.5 10.3 203.5 6.7 206.5 3.5 208.0 0.5 208.6ZM9.5 215.6 0.5 216.4 0.1 212.5 0.5 211.6 13.5 209.4 17.5 209.1 19.9 209.5 20.4 210.5 18.5 212.5 13.9 214.5 9.5 215.6ZM19.5 225.6 14.5 225.7 0.5 223.4 0.1 219.5 0.5 218.6 3.5 218.7 13.9 220.5 19.8 223.5 20.4 224.5 19.5 225.6ZM10.5 233.7 0.5 231.2 0.5 226.4 4.8 227.5 8.2 229.5 10.9 232.5 10.5 233.7Z"/><path fill="#ff8800" fill-rule="evenodd" d="M4.5 207.5 0.5 208.5 0.5 204.0 8.5 202.1 10.2 202.5 7.9 205.5 4.5 207.5ZM8.5 215.7 0.5 216.4 0.1 213.5 0.5 211.6 15.5 209.4 17.9 209.5 19.4 210.5 19.0 211.5 16.0 213.5 8.5 215.7ZM17.5 225.6 0.5 223.4 0.1 219.5 0.5 218.6 3.5 218.7 13.4 220.5 19.0 223.5 19.4 224.5 17.5 225.6ZM9.5 233.0 0.5 231.0 0.5 226.5 4.6 227.5 7.9 229.5 9.8 231.5 10.2 232.5 9.5 233.0Z"/><path fill="#ff9700" fill-rule="evenodd" d="M3.5 207.7 0.5 208.3 0.5 204.2 8.5 202.6 9.2 203.5 8.6 204.5 6.1 206.5 3.5 207.7ZM8.5 215.6 0.5 216.3 0.1 213.5 0.5 211.7 14.5 209.8 16.5 209.8 18.3 210.5 18.2 211.5 15.4 213.5 8.5 215.6ZM17.5 225.0 13.5 225.1 0.5 223.3 0.1 219.5 0.5 218.7 3.5 218.8 12.9 220.5 17.1 222.5 18.2 223.5 18.3 224.5 17.5 225.0ZM8.5 232.4 0.5 230.8 0.5 226.7 4.2 227.5 7.5 229.5 9.2 231.5 8.5 232.4Z"/><path fill="#ffa600" fill-rule="evenodd" d="M3.5 207.6 0.5 208.2 0.5 204.4 7.5 203.2 8.5 203.4 7.2 205.5 3.5 207.6ZM8.5 215.5 0.5 216.3 0.1 213.5 0.5 211.8 13.5 210.1 17.2 210.5 17.4 211.5 14.8 213.5 8.5 215.5ZM16.5 224.7 12.5 224.8 0.5 223.2 0.2 219.5 0.5 218.7 3.5 218.9 12.4 220.5 16.5 222.5 17.4 223.5 17.2 224.5 16.5 224.7ZM8.5 231.6 7.5 231.8 0.5 230.6 0.5 226.8 3.5 227.4 5.8 228.5 8.1 230.5 8.5 231.6Z"/><path fill="#ffb600" fill-rule="evenodd" d="M3.5 207.5 0.5 208.1 0.5 204.6 6.5 203.7 7.5 204.1 6.8 205.5 3.5 207.5ZM7.5 215.6 0.5 216.2 0.1 213.5 0.5 211.8 13.5 210.3 15.8 210.5 16.5 211.3 15.8 212.5 14.3 213.5 7.5 215.6ZM15.5 224.6 11.5 224.6 0.5 223.2 0.2 219.5 0.5 218.8 3.5 218.9 11.9 220.5 15.8 222.5 16.6 223.5 15.5 224.6ZM7.5 230.9 6.5 231.3 0.5 230.4 0.5 226.9 3.5 227.5 5.5 228.5 7.6 230.5 7.5 230.9Z"/><path fill="#ffc500" fill-rule="evenodd" d="M2.5 207.6 0.5 207.9 0.5 204.8 5.5 204.2 6.8 204.5 5.1 206.5 2.5 207.6ZM7.5 215.5 0.5 216.2 0.5 211.9 12.5 210.5 14.5 210.7 15.8 211.5 13.8 213.5 7.5 215.5ZM15.5 223.8 12.5 224.5 0.5 223.1 0.2 219.5 0.5 218.8 3.5 219.0 11.4 220.5 15.2 222.5 15.5 223.8ZM6.5 230.7 0.5 230.2 0.5 227.1 5.1 228.5 6.3 229.5 6.8 230.5 6.5 230.7Z"/><path fill="#ffd400" fill-rule="evenodd" d="M2.5 207.5 0.5 207.8 0.5 205.0 5.5 204.6 5.8 205.5 2.5 207.5ZM6.5 215.6 0.5 216.1 0.5 211.9 11.5 210.8 14.9 211.5 14.6 212.5 13.3 213.5 6.5 215.6ZM14.5 223.8 11.5 224.2 0.5 223.1 0.2 219.5 0.5 218.9 3.5 219.0 11.0 220.5 14.6 222.5 14.9 223.5 14.5 223.8ZM5.5 230.4 0.5 230.0 0.5 227.2 4.7 228.5 5.8 229.5 5.5 230.4Z"/><path fill="#ffe300" fill-rule="evenodd" d="M1.5 207.6 0.5 207.7 0.5 205.2 5.1 205.5 4.2 206.5 1.5 207.6ZM6.5 215.5 0.5 216.1 0.5 212.0 10.5 211.0 14.1 211.5 14.0 212.5 12.8 213.5 6.5 215.5ZM13.5 223.7 10.5 224.0 0.5 223.0 0.3 219.5 0.5 218.9 3.5 219.1 10.5 220.5 14.0 222.5 14.1 223.5 13.5 223.7ZM4.5 229.9 0.5 229.8 0.5 227.3 4.2 228.5 5.1 229.5 4.5 229.9Z"/><path fill="#fff200" fill-rule="evenodd" d="M0.5 207.5 0.5 205.4 4.0 205.5 3.6 206.5 0.5 207.5ZM5.5 215.6 0.5 216.0 0.5 212.1 9.5 211.3 13.1 211.5 13.4 212.5 12.3 213.5 5.5 215.6ZM12.5 223.6 0.5 222.9 0.3 219.5 0.5 219.0 3.5 219.2 10.1 220.5 13.4 222.5 13.1 223.5 12.5 223.6ZM3.5 229.6 0.5 229.6 0.5 227.5 3.6 228.5 4.0 229.5 3.5 229.6Z"/><path fill="#ffff04" fill-rule="evenodd" d="M2.5 206.6 0.5 207.1 0.5 205.8 2.5 206.1 2.5 206.6ZM5.5 215.6 0.5 215.9 0.5 212.1 10.5 211.4 11.9 211.5 12.8 212.5 9.7 214.5 5.5 215.6ZM11.5 223.6 0.5 222.9 0.3 219.5 0.5 219.1 4.5 219.3 9.7 220.5 12.8 222.5 11.5 223.6ZM2.5 228.9 0.5 229.2 0.5 227.9 2.8 228.5 2.5 228.9Z"/><path fill="#ffff1b" fill-rule="evenodd" d="M1.5 206.5 0.5 206.3 1.5 206.5ZM4.5 215.6 0.5 215.9 0.5 212.2 9.5 211.5 12.2 212.5 9.3 214.5 4.5 215.6ZM11.5 223.1 9.5 223.5 0.5 222.8 0.3 219.5 0.5 219.1 4.5 219.4 9.3 220.5 12.2 222.5 11.5 223.1ZM1.5 228.5 0.5 228.3 1.5 228.5Z"/><path fill="#ffff32" fill-rule="evenodd" d="M4.5 215.6 0.5 215.8 0.5 212.2 9.5 211.8 11.6 212.5 10.9 213.5 8.9 214.5 4.5 215.6ZM11.5 222.5 8.5 223.2 0.5 222.8 0.4 219.5 4.5 219.4 8.5 220.4 10.9 221.5 11.5 222.5Z"/><path fill="#ffff48" fill-rule="evenodd" d="M3.5 215.6 0.5 215.8 0.5 212.3 8.5 211.9 10.9 212.5 10.4 213.5 8.5 214.5 3.5 215.6ZM10.5 222.7 8.5 223.1 0.5 222.7 0.4 219.5 4.4 219.5 8.5 220.5 10.4 221.5 10.9 222.5 10.5 222.7Z"/><path fill="#ffff5f" fill-rule="evenodd" d="M3.5 215.5 0.5 215.7 0.5 212.4 7.5 212.1 10.2 212.5 9.9 213.5 8.1 214.5 3.5 215.5ZM9.5 222.7 0.5 222.6 0.4 219.5 3.9 219.5 8.1 220.5 9.9 221.5 10.2 222.5 9.5 222.7Z"/><path fill="#ffff76" fill-rule="evenodd" d="M2.5 215.6 0.5 215.7 0.5 212.4 9.4 212.5 9.5 213.5 7.7 214.5 2.5 215.6ZM8.5 222.7 0.5 222.6 0.4 219.5 3.4 219.5 7.7 220.5 9.5 221.5 9.4 222.5 8.5 222.7Z"/><path fill="#ffff8d" fill-rule="evenodd" d="M2.5 215.5 0.5 215.6 0.5 212.5 8.5 212.5 9.0 213.5 7.3 214.5 2.5 215.5ZM8.5 222.5 0.5 222.5 0.5 219.5 7.3 220.5 9.0 221.5 8.5 222.5Z"/><path fill="#ffffa4" fill-rule="evenodd" d="M1.5 215.5 0.5 215.5 0.5 212.7 7.3 212.5 8.5 213.5 6.8 214.5 1.5 215.5ZM6.5 222.5 0.5 222.3 0.5 219.4 6.5 220.4 8.5 221.5 7.5 222.4 6.5 222.5Z"/><path fill="#ffffbb" fill-rule="evenodd" d="M5.5 214.7 0.5 215.5 0.5 212.9 6.5 212.7 8.0 213.5 5.5 214.7ZM7.5 222.0 5.5 222.4 0.5 222.1 0.5 219.5 6.4 220.5 8.0 221.5 7.5 222.0Z"/><path fill="#ffffd1" fill-rule="evenodd" d="M5.5 214.6 0.5 215.2 0.5 213.1 6.5 213.0 7.5 213.5 5.5 214.6ZM6.5 222.0 0.5 221.9 0.5 219.8 6.0 220.5 7.5 221.5 6.5 222.0Z"/><path fill="#ffffe8" fill-rule="evenodd" d="M5.5 214.5 0.5 214.8 0.5 213.3 6.9 213.5 5.5 214.5ZM6.5 221.7 0.5 221.7 0.5 220.2 5.6 220.5 6.9 221.5 6.5 221.7Z"/></g><rect x="206" y="649" width="436" height="436" fill="url(#ga1)"/><rect x="673" y="649" width="435" height="434" fill="url(#gb1)"/><rect x="1142" y="649" width="434" height="434" fill="url(#gc1)"/>
<g fill="#000">
<text x="357" y="70.4" font-size="76"><tspan font-style="italic" font-size="80">α</tspan>=1</text>
<text x="790" y="71.7" font-size="76"><tspan font-style="italic" font-size="80">α</tspan>=1.5</text>
<text x="1308" y="68.5" font-size="76"><tspan font-style="italic" font-size="80">α</tspan>=2</text>
<g font-size="60.5" text-anchor="end">
<text x="197.7" y="124.5">30</text>
<text x="197.7" y="341.2">0</text>
<text x="198.3" y="558.2">−30</text>
<text x="197.7" y="666.5">30</text>
<text x="197.7" y="884.5">0</text>
<text x="198.3" y="1102.3">−30</text>
</g>
<g font-size="60.5" text-anchor="middle">
<text x="207.2" y="595.6">0</text>
<text x="423.6" y="595.8">10</text>
<text x="640.3" y="595.8">20</text>
<text x="206.3" y="1139.3">−30</text>
<text x="424" y="1139.3">0</text>
<text x="640.2" y="1139.3">30</text>
</g>
</g>
<g fill="#fff" font-size="68.5">
<text x="214.2" y="158.3">(a0)</text>
<text x="683.8" y="164">(b0)</text>
<text x="1151.1" y="158.2">(c0)</text>
<text x="215.1" y="704.4">(a1)</text>
<text x="681.2" y="700.4">(b1)</text>
<text x="1151.1" y="700.5">(c1)</text>
<text x="516.6" y="705" font-size="70">z=7</text>
<g font-size="46">
<text x="212" y="468.4">x</text><text x="267.5" y="534">z</text>
<text x="216" y="1014.5">x</text><text x="266.3" y="1072">y</text>
</g>
</g>
<g fill="#fff" stroke="none">
<rect x="218.2" y="486" width="4" height="38.8"/><rect x="218.2" y="521" width="28" height="3.7"/>
<path d="M220.2 473 L226.2 494.6 L214.2 494.6 Z"/><path d="M266.1 522.9 L244.2 516.9 L244.2 528.9 Z"/>
<rect x="224" y="1030" width="3.5" height="35.5"/><rect x="224" y="1062.3" width="28" height="3"/>
<path d="M225.7 1017 L231.7 1038.3 L219.7 1038.3 Z"/><path d="M272.6 1063.8 L248.5 1057.8 L248.5 1069.8 Z"/>
</g>
<g><g fill="none" stroke-width="4" stroke-linejoin="round"><path stroke="#000" d="M209.3 1296.1 212.7 1296.0 216.1 1295.9 219.5 1295.8 223.0 1295.5 226.4 1295.2 229.8 1294.9 233.2 1294.5 236.6 1294.1 240.0 1293.6 243.5 1293.1 246.9 1292.6 250.3 1292.0 253.7 1291.5 257.1 1291.0 260.5 1290.5 264.0 1290.0 267.4 1289.6 270.8 1289.2 274.2 1288.9 277.6 1288.4 281.0 1288.1 284.5 1287.8 287.9 1288.0 291.3 1288.3 294.7 1288.7 298.1 1289.2 301.5 1289.9 305.0 1290.7 308.4 1291.6 311.8 1292.5 315.2 1293.4 318.6 1294.6 322.0 1295.6 325.5 1296.6 328.9 1297.7 332.3 1299.1 335.7 1300.5 339.1 1302.0 342.5 1303.5 346.0 1305.0 349.4 1306.8 352.8 1308.7 356.2 1310.9 359.6 1313.2 363.0 1315.6 366.5 1318.3 369.9 1321.1 373.3 1324.1 376.7 1327.3 380.1 1330.8 383.5 1334.5 387.0 1338.3 390.4 1342.3 393.8 1346.3 397.2 1350.1 400.6 1354.0 404.0 1358.0 407.5 1362.0 410.9 1366.1 414.3 1370.1 417.7 1373.9 421.1 1377.7 424.5 1381.6 428.0 1385.6 431.4 1389.5 434.8 1393.7 438.2 1397.9 441.6 1402.1 445.0 1406.3 448.5 1410.4 451.9 1414.6 455.3 1418.7 458.7 1422.9 462.1 1426.9 465.5 1430.9 469.0 1434.8 472.4 1438.7 475.8 1442.5 479.2 1446.3 482.6 1449.9 486.0 1453.4 489.5 1456.8 492.9 1460.1 496.3 1463.3 499.7 1466.4 503.1 1469.2 506.5 1471.9 510.0 1474.6 513.4 1477.1 516.8 1479.5 520.2 1481.8 523.6 1484.0 527.0 1486.3 530.5 1488.6 533.9 1490.8 537.3 1492.8 540.7 1494.8 544.1 1496.8 547.5 1498.6 551.0 1500.4 554.4 1502.2 557.8 1504.0 561.2 1505.7 564.6 1507.5 568.0 1509.1 571.4 1510.7 574.9 1512.3 578.3 1513.8 581.7 1515.3 585.1 1516.8 588.5 1518.2 591.9 1519.6 595.4 1520.9 598.8 1522.2 602.2 1523.5 605.6 1524.8 609.0 1526.0 612.4 1527.2 615.9 1528.3 619.3 1529.5 622.7 1530.6 626.1 1531.7 629.5 1532.8 632.9 1533.8 636.4 1534.9 639.8 1535.9 643.2 1536.9 646.6 1537.9 650.0 1538.7 653.4 1539.6 656.9 1540.4 660.3 1541.2 663.7 1542.0 667.1 1542.7 670.5 1543.5 673.9 1544.2 677.4 1545.0 680.8 1545.7 684.2 1546.4 687.6 1547.1 691.0 1547.8 694.4 1548.5 697.9 1549.1 701.3 1549.7 704.7 1550.3 708.1 1550.9 711.5 1551.5 714.9 1552.1 718.4 1552.7 721.8 1553.2 725.2 1553.8 728.6 1554.3 732.0 1554.8 735.4 1555.3 738.9 1555.8 742.3 1556.3 745.7 1556.8 749.1 1557.3 752.5 1557.8 755.9 1558.3 759.4 1558.7 762.8 1559.2 766.2 1559.6 769.6 1560.1 773.0 1560.5 776.4 1561.0 779.9 1561.4 783.3 1561.8 786.7 1562.2 790.1 1562.6 793.5 1563.0 796.9 1563.4 800.4 1563.8 803.8 1564.2 807.2 1564.6 810.6 1565.1 814.0 1565.5 817.4 1565.9 820.9 1566.3 824.3 1566.7 827.7 1567.1 831.1 1567.4 834.5 1567.8 837.9 1568.2 841.4 1568.6 844.8 1568.9 848.2 1569.3 851.6 1569.7 855.0 1570.0 858.4 1570.4 861.9 1570.7 865.3 1571.1 868.7 1571.4 872.1 1571.8 875.5 1572.1 878.9 1572.4 882.4 1572.8 885.8 1573.1 889.2 1573.4 892.6 1573.7 896.0 1574.0 899.4 1574.4 902.8 1574.7 906.3 1575.0 909.7 1575.3 913.1 1575.6 916.5 1575.9 919.9 1576.2 923.3 1576.5 926.8 1576.7 930.2 1577.0 933.6 1577.3 937.0 1577.6 940.4 1577.9 943.8 1578.2 947.3 1578.4 950.7 1578.7 954.1 1579.0 957.5 1579.2 960.9 1579.5 964.3 1579.8 967.8 1580.0 971.2 1580.3 974.6 1580.5 978.0 1580.8 981.4 1581.0 984.8 1581.3 988.3 1581.5 991.7 1581.8 995.1 1582.0 998.5 1582.3 1001.9 1582.5 1005.3 1582.7 1008.8 1583.0 1012.2 1583.2 1015.6 1583.4 1019.0 1583.7 1022.4 1583.9 1025.8 1584.1 1029.3 1584.3 1032.7 1584.6 1036.1 1584.8 1039.5 1585.0 1042.9 1585.2 1046.3 1585.4 1049.8 1585.7 1053.2 1585.9 1056.6 1586.1 1060.0 1586.3 1063.4 1586.5 1066.8 1586.7 1070.3 1586.9 1073.7 1587.1 1077.1 1587.3 1080.5 1587.5 1083.9 1587.7 1087.3 1587.9 1090.8 1588.1 1094.2 1588.3 1097.6 1588.5 1101.0 1588.7 1104.4 1588.9 1107.8 1589.1 1111.3 1589.2 1114.7 1589.4 1118.1 1589.6 1121.5 1589.8 1124.9 1590.0 1128.3 1590.2 1131.8 1590.3 1135.2 1590.5 1138.6 1590.7 1142.0 1590.9 1145.4 1591.0 1148.8 1591.2 1152.3 1591.4 1155.7 1591.6 1159.1 1591.7 1162.5 1591.9 1165.9 1592.1 1169.3 1592.2 1172.8 1592.4 1176.2 1592.6 1179.6 1592.7 1183.0 1592.9 1186.4 1593.1 1189.8 1593.2 1193.3 1593.4 1196.7 1593.6 1200.1 1593.7 1203.5 1593.9 1206.9 1594.1 1210.3 1594.2 1213.8 1594.4 1217.2 1594.6 1220.6 1594.7 1224.0 1594.9 1227.4 1595.0 1230.8 1595.2 1234.2 1595.4 1237.7 1595.5 1241.1 1595.7 1244.5 1595.9 1247.9 1596.1 1251.3 1596.2 1254.7 1596.4 1258.2 1596.6 1261.6 1596.8 1265.0 1596.9 1268.4 1597.1 1271.8 1597.3 1275.2 1597.4 1278.7 1597.6 1282.1 1597.8 1285.5 1598.0 1288.9 1598.1 1292.3 1598.3 1295.7 1598.5 1299.2 1598.6 1302.6 1598.8 1306.0 1599.0 1309.4 1599.1 1312.8 1599.3 1316.2 1599.4 1319.7 1599.6 1323.1 1599.8 1326.5 1599.9 1329.9 1600.1 1333.3 1600.2 1336.7 1600.4 1340.2 1600.6 1343.6 1600.7 1347.0 1600.9 1350.4 1601.0 1353.8 1601.2 1357.2 1601.3 1360.7 1601.5 1364.1 1601.6 1367.5 1601.7 1370.9 1601.8 1374.3 1601.9 1377.7 1602.1 1381.2 1602.2 1384.6 1602.3 1388.0 1602.4 1391.4 1602.5 1394.8 1602.6 1398.2 1602.8 1401.7 1602.9 1405.1 1603.0 1408.5 1603.1 1411.9 1603.2 1415.3 1603.3 1418.7 1603.5 1422.2 1603.6 1425.6 1603.7 1429.0 1603.8 1432.4 1603.9 1435.8 1604.0 1439.2 1604.1 1442.7 1604.2 1446.1 1604.3 1449.5 1604.4 1452.9 1604.5 1456.3 1604.7 1459.7 1604.8 1463.2 1604.9 1466.6 1605.0 1470.0 1605.1 1473.4 1605.2 1476.8 1605.3 1480.2 1605.4 1483.7 1605.5 1487.1 1605.6 1490.5 1605.7 1493.9 1605.8 1497.3 1605.9 1500.7 1606.0 1504.2 1606.1 1507.6 1606.2 1511.0 1606.3 1514.4 1606.4 1517.8 1606.5 1521.2 1606.6 1524.7 1606.7 1528.1 1606.8 1531.5 1606.9 1534.9 1607.0 1538.3 1607.1 1541.7 1607.1 1545.2 1607.2 1548.6 1607.3 1552.0 1607.4 1555.4 1607.5 1558.8 1607.6 1562.2 1607.7 1565.7 1607.8 1569.1 1607.9 1572.5 1608.0 1575.9 1608.1"/><path stroke="#ff0000" d="M209.3 1297.1 212.7 1297.1 216.1 1297.3 219.5 1297.7 223.0 1298.3 226.4 1299.2 229.8 1300.5 233.2 1302.2 236.6 1304.1 240.0 1306.4 243.5 1309.3 246.9 1312.9 250.3 1316.6 253.7 1321.1 257.1 1325.9 260.5 1330.9 264.0 1336.6 267.4 1342.6 270.8 1349.3 274.2 1356.1 277.6 1363.7 281.0 1371.3 284.5 1378.9 287.9 1386.4 291.3 1393.8 294.7 1401.3 298.1 1408.7 301.5 1416.1 305.0 1423.3 308.4 1430.3 311.8 1437.1 315.2 1443.4 318.6 1449.6 322.0 1455.5 325.5 1461.3 328.9 1466.9 332.3 1472.3 335.7 1477.5 339.1 1482.5 342.5 1487.4 346.0 1492.1 349.4 1496.4 352.8 1500.2 356.2 1504.2 359.6 1508.3 363.0 1512.3 366.5 1516.0 369.9 1519.6 373.3 1523.0 376.7 1526.2 380.1 1529.4 383.5 1532.4 387.0 1535.4 390.4 1538.3 393.8 1541.2 397.2 1543.9 400.6 1546.5 404.0 1549.1 407.5 1551.5 410.9 1553.9 414.3 1556.2 417.7 1558.4 421.1 1560.5 424.5 1562.6 428.0 1564.5 431.4 1566.5 434.8 1568.3 438.2 1570.1 441.6 1571.9 445.0 1573.6 448.5 1575.2 451.9 1576.9 455.3 1578.0 458.7 1578.8 462.1 1579.5 465.5 1580.2 469.0 1580.9 472.4 1581.6 475.8 1582.3 479.2 1582.9 482.6 1583.6 486.0 1584.3 489.5 1584.9 492.9 1585.6 496.3 1586.2 499.7 1586.8 503.1 1587.5 506.5 1588.1 510.0 1588.7 513.4 1589.4 516.8 1590.0 520.2 1590.6 523.6 1591.2 527.0 1591.8 530.5 1592.4 533.9 1593.0 537.3 1593.6 540.7 1594.2 544.1 1594.8 547.5 1595.3 551.0 1595.9 554.4 1596.5 557.8 1597.0 561.2 1597.5 564.6 1598.1 568.0 1598.6 571.4 1599.2 574.9 1599.8 578.3 1600.4 581.7 1601.0 585.1 1601.6 588.5 1602.1 591.9 1602.7 595.4 1603.3 598.8 1603.8 602.2 1604.4 605.6 1604.9 609.0 1605.5 612.4 1606.0 615.9 1606.6 619.3 1607.1 622.7 1607.6 626.1 1608.1 629.5 1608.6 632.9 1609.1 636.4 1609.6 639.8 1610.0 643.2 1610.4 646.6 1610.9 650.0 1611.3 653.4 1611.7 656.9 1612.2 660.3 1612.6 663.7 1613.0 667.1 1613.4 670.5 1613.8 673.9 1614.2 677.4 1614.5 680.8 1614.9 684.2 1615.3 687.6 1615.7 691.0 1616.0 694.4 1616.4 697.9 1616.8 701.3 1617.1 704.7 1617.4 708.1 1617.8 711.5 1618.1 714.9 1618.4 718.4 1618.8 721.8 1619.1 725.2 1619.4 728.6 1619.7 732.0 1620.0 735.4 1620.3 738.9 1620.6 742.3 1620.9 745.7 1621.2 749.1 1621.5 752.5 1621.8 755.9 1622.0 759.4 1622.3 762.8 1622.6 766.2 1622.9 769.6 1623.1 773.0 1623.4 776.4 1623.7 779.9 1623.9 783.3 1624.2 786.7 1624.4 790.1 1624.7 793.5 1624.9 796.9 1625.2 800.4 1625.4 803.8 1625.7 807.2 1625.9 810.6 1626.1 814.0 1626.3 817.4 1626.6 820.9 1626.8 824.3 1627.0 827.7 1627.2 831.1 1627.5 834.5 1627.7 837.9 1627.9 841.4 1628.1 844.8 1628.3 848.2 1628.5 851.6 1628.7 855.0 1628.9 858.4 1629.1 861.9 1629.3 865.3 1629.5 868.7 1629.7 872.1 1629.9 875.5 1630.1 878.9 1630.3 882.4 1630.5 885.8 1630.7 889.2 1630.9 892.6 1631.1 896.0 1631.3 899.4 1631.5 902.8 1631.6 906.3 1631.8 909.7 1632.0 913.1 1632.2 916.5 1632.4 919.9 1632.5 923.3 1632.7 926.8 1632.9 930.2 1633.1 933.6 1633.2 937.0 1633.4 940.4 1633.6 943.8 1633.7 947.3 1633.9 950.7 1634.1 954.1 1634.2 957.5 1634.4 960.9 1634.5 964.3 1634.7 967.8 1634.9 971.2 1635.0 974.6 1635.2 978.0 1635.3 981.4 1635.5 984.8 1635.6 988.3 1635.8 991.7 1635.9 995.1 1636.1 998.5 1636.2 1001.9 1636.3 1005.3 1636.5 1008.8 1636.6 1012.2 1636.8 1015.6 1636.9 1019.0 1637.0 1022.4 1637.2 1025.8 1637.3 1029.3 1637.5 1032.7 1637.6 1036.1 1637.7 1039.5 1637.8 1042.9 1638.0 1046.3 1638.1 1049.8 1638.2 1053.2 1638.4 1056.6 1638.5 1060.0 1638.6 1063.4 1638.7 1066.8 1638.9 1070.3 1639.0 1073.7 1639.1 1077.1 1639.2 1080.5 1639.3 1083.9 1639.5 1087.3 1639.6 1090.8 1639.7 1094.2 1639.8 1097.6 1639.9 1101.0 1640.0 1104.4 1640.1 1107.8 1640.2 1111.3 1640.4 1114.7 1640.5 1118.1 1640.6 1121.5 1640.7 1124.9 1640.8 1128.3 1640.9 1131.8 1641.0 1135.2 1641.1 1138.6 1641.2 1142.0 1641.3 1145.4 1641.4 1148.8 1641.5 1152.3 1641.6 1155.7 1641.7 1159.1 1641.8 1162.5 1641.9 1165.9 1642.0 1169.3 1642.1 1172.8 1642.2 1176.2 1642.3 1179.6 1642.4 1183.0 1642.5 1186.4 1642.6 1189.8 1642.7 1193.3 1642.8 1196.7 1642.9 1200.1 1643.0 1203.5 1643.1 1206.9 1643.2 1210.3 1643.3 1213.8 1643.4 1217.2 1643.4 1220.6 1643.5 1224.0 1643.6 1227.4 1643.7 1230.8 1643.8 1234.2 1643.9 1237.7 1644.0 1241.1 1644.1 1244.5 1644.2 1247.9 1644.3 1251.3 1644.3 1254.7 1644.4 1258.2 1644.5 1261.6 1644.6 1265.0 1644.7 1268.4 1644.8 1271.8 1644.9 1275.2 1645.0 1278.7 1645.0 1282.1 1645.1 1285.5 1645.2 1288.9 1645.3 1292.3 1645.4 1295.7 1645.5 1299.2 1645.6 1302.6 1645.6 1306.0 1645.7 1309.4 1645.8 1312.8 1645.9 1316.2 1646.0 1319.7 1646.0 1323.1 1646.1 1326.5 1646.2 1329.9 1646.3 1333.3 1646.4 1336.7 1646.4 1340.2 1646.5 1343.6 1646.6 1347.0 1646.7 1350.4 1646.7 1353.8 1646.8 1357.2 1646.9 1360.7 1647.0 1364.1 1647.1 1367.5 1647.2 1370.9 1647.3 1374.3 1647.4 1377.7 1647.5 1381.2 1647.6 1384.6 1647.7 1388.0 1647.8 1391.4 1647.9 1394.8 1648.0 1398.2 1648.1 1401.7 1648.2 1405.1 1648.3 1408.5 1648.4 1411.9 1648.5 1415.3 1648.6 1418.7 1648.7 1422.2 1648.8 1425.6 1648.9 1429.0 1649.0 1432.4 1649.1 1435.8 1649.2 1439.2 1649.3 1442.7 1649.4 1446.1 1649.5 1449.5 1649.5 1452.9 1649.5 1456.3 1649.5 1459.7 1649.5 1463.2 1649.5 1466.6 1649.5 1470.0 1649.4 1473.4 1649.4 1476.8 1649.4 1480.2 1649.4 1483.7 1649.4 1487.1 1649.4 1490.5 1649.4 1493.9 1649.4 1497.3 1649.4 1500.7 1649.4 1504.2 1649.4 1507.6 1649.4 1511.0 1649.4 1514.4 1649.4 1517.8 1649.4 1521.2 1649.3 1524.7 1649.1 1528.1 1648.8 1531.5 1648.6 1534.9 1648.4 1538.3 1648.2 1541.7 1648.0 1545.2 1647.8 1548.6 1647.6 1552.0 1647.4 1555.4 1647.2 1558.8 1646.9 1562.2 1646.7 1565.7 1646.5 1569.1 1646.3 1572.5 1646.1 1575.9 1645.9"/><path stroke="#0000ff" d="M211.3 1671.0 209.3 1308.8 212.7 1310.5 216.1 1315.1 219.5 1322.5 223.0 1330.7 226.4 1340.9 229.8 1352.1 233.2 1363.8 236.6 1378.1 240.0 1392.2 243.5 1406.1 246.9 1418.9 250.3 1431.0 253.7 1441.7 257.1 1451.1 260.5 1460.2 264.0 1469.2 267.4 1477.8 270.8 1486.5 274.2 1494.6 277.6 1501.6 281.0 1507.8 284.5 1513.5 287.9 1518.8 291.3 1523.8 294.7 1528.4 298.1 1532.8 301.5 1537.0 305.0 1541.0 308.4 1544.7 311.8 1548.2 315.2 1551.5 318.6 1554.7 322.0 1557.7 325.5 1560.5 328.9 1563.1 332.3 1565.8 335.7 1568.4 339.1 1570.9 342.5 1573.2 346.0 1575.5 349.4 1577.6 352.8 1579.7 356.2 1581.7 359.6 1583.6 363.0 1585.4 366.5 1587.2 369.9 1588.8 373.3 1590.6 376.7 1592.2 380.1 1593.8 383.5 1595.3 387.0 1596.8 390.4 1598.2 393.8 1599.6 397.2 1601.0 400.6 1602.3 404.0 1603.6 407.5 1604.8 410.9 1606.0 414.3 1607.1 417.7 1608.3 421.1 1609.3 424.5 1610.4 428.0 1611.4 431.4 1612.4 434.8 1613.4 438.2 1614.3 441.6 1615.2 445.0 1616.1 448.5 1617.0 451.9 1617.8 455.3 1618.7 458.7 1619.5 462.1 1620.3 465.5 1621.1 469.0 1621.8 472.4 1622.6 475.8 1623.3 479.2 1624.0 482.6 1624.6 486.0 1625.2 489.5 1625.7 492.9 1626.3 496.3 1626.8 499.7 1627.4 503.1 1627.9 506.5 1628.4 510.0 1628.9 513.4 1629.4 516.8 1629.9 520.2 1630.3 523.6 1630.8 527.0 1631.2 530.5 1631.7 533.9 1632.1 537.3 1632.5 540.7 1633.0 544.1 1633.4 547.5 1633.8 551.0 1634.3 554.4 1634.7 557.8 1635.1 561.2 1635.5 564.6 1635.9 568.0 1636.3 571.4 1636.7 574.9 1637.1 578.3 1637.4 581.7 1637.8 585.1 1638.2 588.5 1638.5 591.9 1638.9 595.4 1639.2 598.8 1639.5 602.2 1639.9 605.6 1640.1 609.0 1640.4 612.4 1640.7 615.9 1640.9 619.3 1641.2 622.7 1641.4 626.1 1641.7 629.5 1641.9 632.9 1642.1 636.4 1642.4 639.8 1642.6 643.2 1642.8 646.6 1643.1 650.0 1643.3 653.4 1643.5 656.9 1643.7 660.3 1643.9 663.7 1644.1 667.1 1644.4 670.5 1644.6 673.9 1644.8 677.4 1645.0 680.8 1645.2 684.2 1645.5 687.6 1645.7 691.0 1645.9 694.4 1646.1 697.9 1646.3 701.3 1646.5 704.7 1646.7 708.1 1646.9 711.5 1647.1 714.9 1647.3 718.4 1647.5 721.8 1647.7 725.2 1647.9 728.6 1648.1 732.0 1648.2 735.4 1648.4 738.9 1648.6 742.3 1648.8 745.7 1648.9 749.1 1649.1 752.5 1649.2 755.9 1649.3 759.4 1649.5 762.8 1649.6 766.2 1649.7 769.6 1649.8 773.0 1650.0 776.4 1650.1 779.9 1650.2 783.3 1650.3 786.7 1650.4 790.1 1650.5 793.5 1650.7 796.9 1650.8 800.4 1650.9 803.8 1651.0 807.2 1651.1 810.6 1651.2 814.0 1651.3 817.4 1651.4 820.9 1651.5 824.3 1651.6 827.7 1651.7 831.1 1651.8 834.5 1651.9 837.9 1652.0 841.4 1652.1 844.8 1652.2 848.2 1652.3 851.6 1652.4 855.0 1652.5 858.4 1652.5 861.9 1652.6 865.3 1652.7 868.7 1652.8 872.1 1652.9 875.5 1652.9 878.9 1653.0 882.4 1653.1 885.8 1653.2 889.2 1653.2 892.6 1653.3 896.0 1653.4 899.4 1653.4 902.8 1653.5 906.3 1653.6 909.7 1653.6 913.1 1653.7 916.5 1653.8 919.9 1653.8 923.3 1653.9 926.8 1653.9 930.2 1654.0 933.6 1654.1 937.0 1654.1 940.4 1654.2 943.8 1654.2 947.3 1654.3 950.7 1654.3 954.1 1654.4 957.5 1654.5 960.9 1654.5 964.3 1654.6 967.8 1654.6 971.2 1654.7 974.6 1654.7 978.0 1654.8 981.4 1654.8 984.8 1654.9 988.3 1654.9 991.7 1655.0 995.1 1655.1 998.5 1655.1 1001.9 1655.2 1005.3 1655.3 1008.8 1655.4 1012.2 1655.4 1015.6 1655.5 1019.0 1655.6 1022.4 1655.7 1025.8 1655.7 1029.3 1655.8 1032.7 1655.9 1036.1 1655.9 1039.5 1656.0 1042.9 1656.1 1046.3 1656.1 1049.8 1656.2 1053.2 1656.3 1056.6 1656.3 1060.0 1656.4 1063.4 1656.4 1066.8 1656.5 1070.3 1656.5 1073.7 1656.6 1077.1 1656.6 1080.5 1656.7 1083.9 1656.7 1087.3 1656.8 1090.8 1656.8 1094.2 1656.9 1097.6 1656.9 1101.0 1656.9 1104.4 1657.0 1107.8 1657.0 1111.3 1657.1 1114.7 1657.1 1118.1 1657.2 1121.5 1657.2 1124.9 1657.3 1128.3 1657.3 1131.8 1657.3 1135.2 1657.2 1138.6 1657.2 1142.0 1657.2 1145.4 1657.2 1148.8 1657.1 1152.3 1657.1 1155.7 1657.1 1159.1 1657.0 1162.5 1657.0 1165.9 1657.0 1169.3 1657.0 1172.8 1656.9 1176.2 1656.9 1179.6 1656.9 1183.0 1656.9 1186.4 1656.8 1189.8 1656.8 1193.3 1656.8 1196.7 1656.7 1200.1 1656.7 1203.5 1656.7 1206.9 1656.6 1210.3 1656.6 1213.8 1656.6 1217.2 1656.6 1220.6 1656.6 1224.0 1656.6 1227.4 1656.6 1230.8 1656.6 1234.2 1656.6 1237.7 1656.6 1241.1 1656.6 1244.5 1656.6 1247.9 1656.6 1251.3 1656.5 1254.7 1656.5 1258.2 1656.5 1261.6 1656.5 1265.0 1656.5 1268.4 1656.5 1271.8 1656.5 1275.2 1656.5 1278.7 1656.5 1282.1 1656.5 1285.5 1656.5 1288.9 1656.4 1292.3 1656.4 1295.7 1656.4 1299.2 1656.4 1302.6 1656.5 1306.0 1656.5 1309.4 1656.6 1312.8 1656.6 1316.2 1656.6 1319.7 1656.7 1323.1 1656.7 1326.5 1656.8 1329.9 1656.8 1333.3 1656.8 1336.7 1656.9 1340.2 1656.9 1343.6 1657.0 1347.0 1657.0 1350.4 1657.0 1353.8 1657.1 1357.2 1657.1 1360.7 1657.2 1364.1 1657.2 1367.5 1657.2 1370.9 1657.3 1374.3 1657.3 1377.7 1657.3 1381.2 1657.4 1384.6 1657.4 1388.0 1657.5 1391.4 1657.6 1394.8 1657.6 1398.2 1657.7 1401.7 1657.8 1405.1 1657.9 1408.5 1658.0 1411.9 1658.1 1415.3 1658.1 1418.7 1658.2 1422.2 1658.3 1425.6 1658.4 1429.0 1658.5 1432.4 1658.6 1435.8 1658.6 1439.2 1658.7 1442.7 1658.8 1446.1 1658.9 1449.5 1658.9 1452.9 1658.9 1456.3 1659.0 1459.7 1659.0 1463.2 1659.0 1466.6 1659.0 1470.0 1659.1 1473.4 1659.1 1476.8 1659.1 1480.2 1659.2 1483.7 1659.2 1487.1 1659.2 1490.5 1659.2 1493.9 1659.3 1497.3 1659.3 1500.7 1659.3 1504.2 1659.4 1507.6 1659.3 1511.0 1659.3 1514.4 1659.3 1517.8 1659.3 1521.2 1659.3 1524.7 1659.2 1528.1 1659.2 1531.5 1659.2 1534.9 1659.2 1538.3 1659.2 1541.7 1659.1 1545.2 1659.1 1548.6 1659.1 1552.0 1659.1 1555.4 1659.0 1558.8 1659.0 1562.2 1659.0 1565.7 1659.0 1569.1 1658.9 1572.5 1658.9 1575.9 1658.9"/></g><g stroke="#000" stroke-width="3.5" fill="none"><rect x="209" y="1192" width="1367.5" height="478.8"/><line x1="188" y1="1671.0" x2="209" y2="1671.0"/><line x1="188" y1="1431.5" x2="209" y2="1431.5"/><line x1="188" y1="1192.0" x2="209" y2="1192.0"/><line x1="198" y1="1551.5" x2="209" y2="1551.5"/><line x1="198" y1="1311.3" x2="209" y2="1311.3"/><line x1="209.3" y1="1671" x2="209.3" y2="1692.7"/><line x1="551.0" y1="1671" x2="551.0" y2="1692.7"/><line x1="892.6" y1="1671" x2="892.6" y2="1692.7"/><line x1="1234.2" y1="1671" x2="1234.2" y2="1692.7"/><line x1="1575.9" y1="1671" x2="1575.9" y2="1692.7"/><line x1="380.1" y1="1671" x2="380.1" y2="1681.5"/><line x1="721.8" y1="1671" x2="721.8" y2="1681.5"/><line x1="1063.4" y1="1671" x2="1063.4" y2="1681.5"/><line x1="1405.1" y1="1671" x2="1405.1" y2="1681.5"/></g><g fill="#000" font-size="62"><g text-anchor="end"><text x="183.2" y="1210.2">0.6</text><text x="182" y="1449.5">0.3</text><text x="183" y="1688.5">0.0</text></g><g text-anchor="middle"><text x="209.3" y="1739.2">0</text><text x="551.0" y="1739.2">5</text><text x="892.6" y="1739.2">10</text><text x="1234.2" y="1739.2">15</text><text x="1575.9" y="1739.2">20</text></g><text x="215" y="1248" font-size="67">(d)</text><text x="862" y="1796.9" font-size="65">Z</text><text transform="translate(67.3,1437.3) rotate(-90)" text-anchor="middle" font-size="68">|U|</text><g font-size="48"><line x1="1322" y1="1240.0" x2="1430.2" y2="1240.0" stroke="#000" stroke-width="4.5"/><text x="1440" y="1256.5"><tspan font-weight="normal" font-size="54">α</tspan>=1</text><line x1="1322" y1="1303.5" x2="1430.2" y2="1303.5" stroke="#ff0000" stroke-width="4.5"/><text x="1440" y="1320.0"><tspan font-weight="normal" font-size="54">α</tspan>=1.5</text><line x1="1322" y1="1366.8" x2="1430.2" y2="1366.8" stroke="#0000ff" stroke-width="4.5"/><text x="1440" y="1383.3"><tspan font-weight="normal" font-size="54">α</tspan>=2</text></g></g></g></svg></body></html>
